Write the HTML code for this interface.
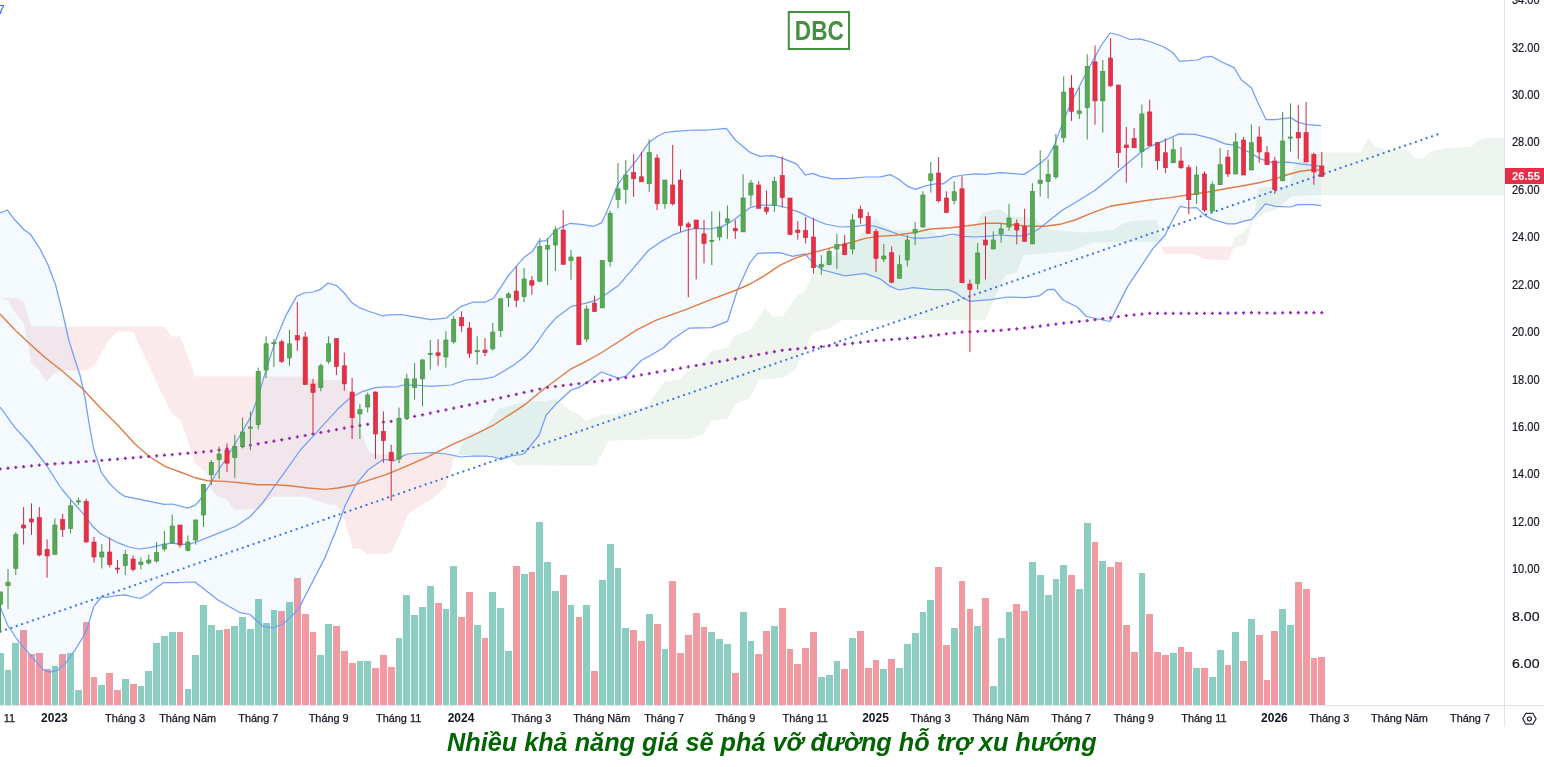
<!DOCTYPE html>
<html lang="vi"><head><meta charset="utf-8"><title>DBC</title>
<style>
html,body{margin:0;padding:0;background:#fff;}
body{width:1544px;height:767px;overflow:hidden;position:relative;font-family:"Liberation Sans",sans-serif;}
svg{position:absolute;left:0;top:0;display:block;}
svg text{font-family:"Liberation Sans",sans-serif;}
.ax{font-size:10.9px;fill:#131722;stroke:#131722;stroke-width:0.25px;}
.axb{font-size:12px;fill:#131722;font-weight:bold;}
.pr{font-size:12px;fill:#131722;stroke:#131722;stroke-width:0.2px;}
#cap{position:absolute;left:447px;top:726.7px;width:670px;white-space:nowrap;font:italic bold 25.25px "Liberation Sans",sans-serif;color:#006400;line-height:30px;letter-spacing:0px;}
</style></head><body>
<svg width="1544" height="767" viewBox="0 0 1544 767">
<rect width="1544" height="767" fill="#fff"/>
<defs><clipPath id="pane"><rect x="0" y="0" width="1504.7" height="705.2"/></clipPath></defs>
<g clip-path="url(#pane)">
<g shape-rendering="crispEdges">
<rect x="-3.2" y="652.7" width="6.8" height="52.5" fill="#8ccdc2"/>
<rect x="4.6" y="670.2" width="6.8" height="35" fill="#8ccdc2"/>
<rect x="12.4" y="642.7" width="6.8" height="62.5" fill="#8ccdc2"/>
<rect x="20.2" y="630.1" width="6.8" height="75.1" fill="#f19aa2"/>
<rect x="28.1" y="653.9" width="6.8" height="51.3" fill="#f19aa2"/>
<rect x="35.9" y="652.7" width="6.8" height="52.5" fill="#f19aa2"/>
<rect x="43.7" y="668.9" width="6.8" height="36.3" fill="#f19aa2"/>
<rect x="51.5" y="665.9" width="6.8" height="39.3" fill="#8ccdc2"/>
<rect x="59.3" y="653.9" width="6.8" height="51.3" fill="#f19aa2"/>
<rect x="67.2" y="652.7" width="6.8" height="52.5" fill="#8ccdc2"/>
<rect x="75" y="689.7" width="6.8" height="15.5" fill="#8ccdc2"/>
<rect x="82.8" y="621.9" width="6.8" height="83.3" fill="#f19aa2"/>
<rect x="90.6" y="676.7" width="6.8" height="28.5" fill="#f19aa2"/>
<rect x="98.4" y="685.2" width="6.8" height="20" fill="#8ccdc2"/>
<rect x="106.3" y="672.7" width="6.8" height="32.5" fill="#f19aa2"/>
<rect x="114.1" y="689.7" width="6.8" height="15.5" fill="#f19aa2"/>
<rect x="121.9" y="678.5" width="6.8" height="26.7" fill="#8ccdc2"/>
<rect x="129.7" y="684.2" width="6.8" height="21" fill="#f19aa2"/>
<rect x="137.5" y="686" width="6.8" height="19.2" fill="#8ccdc2"/>
<rect x="145.4" y="670.9" width="6.8" height="34.3" fill="#8ccdc2"/>
<rect x="153.2" y="643.4" width="6.8" height="61.8" fill="#8ccdc2"/>
<rect x="161" y="635.9" width="6.8" height="69.3" fill="#8ccdc2"/>
<rect x="168.8" y="631.9" width="6.8" height="73.3" fill="#8ccdc2"/>
<rect x="176.6" y="631.9" width="6.8" height="73.3" fill="#f19aa2"/>
<rect x="184.5" y="689" width="6.8" height="16.2" fill="#8ccdc2"/>
<rect x="192.3" y="654.7" width="6.8" height="50.5" fill="#8ccdc2"/>
<rect x="200.1" y="604.6" width="6.8" height="100.6" fill="#8ccdc2"/>
<rect x="207.9" y="625.4" width="6.8" height="79.8" fill="#8ccdc2"/>
<rect x="215.7" y="630.1" width="6.8" height="75.1" fill="#8ccdc2"/>
<rect x="223.6" y="629.1" width="6.8" height="76.1" fill="#f19aa2"/>
<rect x="231.4" y="626.4" width="6.8" height="78.8" fill="#8ccdc2"/>
<rect x="239.2" y="616.9" width="6.8" height="88.3" fill="#8ccdc2"/>
<rect x="247" y="629.1" width="6.8" height="76.1" fill="#8ccdc2"/>
<rect x="254.8" y="598.9" width="6.8" height="106.3" fill="#8ccdc2"/>
<rect x="262.7" y="622.6" width="6.8" height="82.6" fill="#8ccdc2"/>
<rect x="270.5" y="610.1" width="6.8" height="95.1" fill="#8ccdc2"/>
<rect x="278.3" y="610.9" width="6.8" height="94.3" fill="#f19aa2"/>
<rect x="286.1" y="601.9" width="6.8" height="103.3" fill="#8ccdc2"/>
<rect x="293.9" y="578.1" width="6.8" height="127.1" fill="#f19aa2"/>
<rect x="301.8" y="614.1" width="6.8" height="91.1" fill="#f19aa2"/>
<rect x="309.6" y="631.9" width="6.8" height="73.3" fill="#f19aa2"/>
<rect x="317.4" y="654.7" width="6.8" height="50.5" fill="#8ccdc2"/>
<rect x="325.2" y="624.4" width="6.8" height="80.8" fill="#8ccdc2"/>
<rect x="333" y="626.4" width="6.8" height="78.8" fill="#f19aa2"/>
<rect x="340.9" y="650.9" width="6.8" height="54.3" fill="#f19aa2"/>
<rect x="348.7" y="663.4" width="6.8" height="41.8" fill="#f19aa2"/>
<rect x="356.5" y="661.4" width="6.8" height="43.8" fill="#8ccdc2"/>
<rect x="364.3" y="661.4" width="6.8" height="43.8" fill="#8ccdc2"/>
<rect x="372.1" y="668.2" width="6.8" height="37" fill="#f19aa2"/>
<rect x="380" y="655.2" width="6.8" height="50" fill="#f19aa2"/>
<rect x="387.8" y="667.2" width="6.8" height="38" fill="#f19aa2"/>
<rect x="395.6" y="637.9" width="6.8" height="67.3" fill="#8ccdc2"/>
<rect x="403.4" y="595.1" width="6.8" height="110.1" fill="#8ccdc2"/>
<rect x="411.2" y="615.1" width="6.8" height="90.1" fill="#8ccdc2"/>
<rect x="419.1" y="606.9" width="6.8" height="98.3" fill="#8ccdc2"/>
<rect x="426.9" y="585.8" width="6.8" height="119.4" fill="#8ccdc2"/>
<rect x="434.7" y="602.9" width="6.8" height="102.3" fill="#f19aa2"/>
<rect x="442.5" y="609.4" width="6.8" height="95.8" fill="#8ccdc2"/>
<rect x="450.3" y="566.1" width="6.8" height="139.1" fill="#8ccdc2"/>
<rect x="458.2" y="616.9" width="6.8" height="88.3" fill="#f19aa2"/>
<rect x="466" y="592.3" width="6.8" height="112.9" fill="#f19aa2"/>
<rect x="473.8" y="625.4" width="6.8" height="79.8" fill="#8ccdc2"/>
<rect x="481.6" y="637.9" width="6.8" height="67.3" fill="#f19aa2"/>
<rect x="489.4" y="592.3" width="6.8" height="112.9" fill="#8ccdc2"/>
<rect x="497.3" y="607.6" width="6.8" height="97.6" fill="#8ccdc2"/>
<rect x="505.1" y="650.9" width="6.8" height="54.3" fill="#8ccdc2"/>
<rect x="512.9" y="566.1" width="6.8" height="139.1" fill="#f19aa2"/>
<rect x="520.7" y="574.3" width="6.8" height="130.9" fill="#8ccdc2"/>
<rect x="528.5" y="571.6" width="6.8" height="133.6" fill="#f19aa2"/>
<rect x="536.4" y="522" width="6.8" height="183.2" fill="#8ccdc2"/>
<rect x="544.2" y="561.8" width="6.8" height="143.4" fill="#8ccdc2"/>
<rect x="552" y="590.6" width="6.8" height="114.6" fill="#8ccdc2"/>
<rect x="559.8" y="575.1" width="6.8" height="130.1" fill="#f19aa2"/>
<rect x="567.6" y="604.6" width="6.8" height="100.6" fill="#8ccdc2"/>
<rect x="575.5" y="616.9" width="6.8" height="88.3" fill="#f19aa2"/>
<rect x="583.3" y="604.6" width="6.8" height="100.6" fill="#8ccdc2"/>
<rect x="591.1" y="670.9" width="6.8" height="34.3" fill="#f19aa2"/>
<rect x="598.9" y="580.1" width="6.8" height="125.1" fill="#8ccdc2"/>
<rect x="606.7" y="543.8" width="6.8" height="161.4" fill="#8ccdc2"/>
<rect x="614.6" y="567.8" width="6.8" height="137.4" fill="#8ccdc2"/>
<rect x="622.4" y="628.4" width="6.8" height="76.8" fill="#8ccdc2"/>
<rect x="630.2" y="630.1" width="6.8" height="75.1" fill="#f19aa2"/>
<rect x="638" y="640.7" width="6.8" height="64.5" fill="#f19aa2"/>
<rect x="645.8" y="614.1" width="6.8" height="91.1" fill="#8ccdc2"/>
<rect x="653.7" y="623.6" width="6.8" height="81.6" fill="#f19aa2"/>
<rect x="661.5" y="649.2" width="6.8" height="56" fill="#8ccdc2"/>
<rect x="669.3" y="581.1" width="6.8" height="124.1" fill="#f19aa2"/>
<rect x="677.1" y="652.9" width="6.8" height="52.3" fill="#f19aa2"/>
<rect x="684.9" y="634.9" width="6.8" height="70.3" fill="#f19aa2"/>
<rect x="692.8" y="613.1" width="6.8" height="92.1" fill="#f19aa2"/>
<rect x="700.6" y="627.4" width="6.8" height="77.8" fill="#f19aa2"/>
<rect x="708.4" y="632.1" width="6.8" height="73.1" fill="#8ccdc2"/>
<rect x="716.2" y="638.7" width="6.8" height="66.5" fill="#8ccdc2"/>
<rect x="724" y="644.4" width="6.8" height="60.8" fill="#8ccdc2"/>
<rect x="731.9" y="672.9" width="6.8" height="32.3" fill="#f19aa2"/>
<rect x="739.7" y="612.1" width="6.8" height="93.1" fill="#8ccdc2"/>
<rect x="747.5" y="640.7" width="6.8" height="64.5" fill="#8ccdc2"/>
<rect x="755.3" y="653.9" width="6.8" height="51.3" fill="#f19aa2"/>
<rect x="763.1" y="631.1" width="6.8" height="74.1" fill="#f19aa2"/>
<rect x="771" y="626.4" width="6.8" height="78.8" fill="#8ccdc2"/>
<rect x="778.8" y="607.6" width="6.8" height="97.6" fill="#f19aa2"/>
<rect x="786.6" y="649.2" width="6.8" height="56" fill="#f19aa2"/>
<rect x="794.4" y="664.2" width="6.8" height="41" fill="#f19aa2"/>
<rect x="802.2" y="648.2" width="6.8" height="57" fill="#f19aa2"/>
<rect x="810.1" y="631.9" width="6.8" height="73.3" fill="#f19aa2"/>
<rect x="817.9" y="676.7" width="6.8" height="28.5" fill="#8ccdc2"/>
<rect x="825.7" y="674.7" width="6.8" height="30.5" fill="#8ccdc2"/>
<rect x="833.5" y="661.4" width="6.8" height="43.8" fill="#8ccdc2"/>
<rect x="841.3" y="668.9" width="6.8" height="36.3" fill="#f19aa2"/>
<rect x="849.2" y="637.9" width="6.8" height="67.3" fill="#8ccdc2"/>
<rect x="857" y="631.1" width="6.8" height="74.1" fill="#f19aa2"/>
<rect x="864.8" y="668.2" width="6.8" height="37" fill="#f19aa2"/>
<rect x="872.6" y="659.7" width="6.8" height="45.5" fill="#f19aa2"/>
<rect x="880.4" y="668.9" width="6.8" height="36.3" fill="#8ccdc2"/>
<rect x="888.3" y="658.7" width="6.8" height="46.5" fill="#f19aa2"/>
<rect x="896.1" y="668.2" width="6.8" height="37" fill="#8ccdc2"/>
<rect x="903.9" y="644.4" width="6.8" height="60.8" fill="#8ccdc2"/>
<rect x="911.7" y="633.1" width="6.8" height="72.1" fill="#8ccdc2"/>
<rect x="919.5" y="612.1" width="6.8" height="93.1" fill="#8ccdc2"/>
<rect x="927.4" y="600.1" width="6.8" height="105.1" fill="#8ccdc2"/>
<rect x="935.2" y="566.8" width="6.8" height="138.4" fill="#f19aa2"/>
<rect x="943" y="645.4" width="6.8" height="59.8" fill="#f19aa2"/>
<rect x="950.8" y="628.4" width="6.8" height="76.8" fill="#8ccdc2"/>
<rect x="958.6" y="581.1" width="6.8" height="124.1" fill="#f19aa2"/>
<rect x="966.5" y="609.4" width="6.8" height="95.8" fill="#f19aa2"/>
<rect x="974.3" y="626.4" width="6.8" height="78.8" fill="#8ccdc2"/>
<rect x="982.1" y="598.1" width="6.8" height="107.1" fill="#f19aa2"/>
<rect x="989.9" y="686.2" width="6.8" height="19" fill="#8ccdc2"/>
<rect x="997.7" y="637.9" width="6.8" height="67.3" fill="#8ccdc2"/>
<rect x="1005.6" y="612.1" width="6.8" height="93.1" fill="#8ccdc2"/>
<rect x="1013.4" y="603.9" width="6.8" height="101.3" fill="#f19aa2"/>
<rect x="1021.2" y="611.4" width="6.8" height="93.8" fill="#f19aa2"/>
<rect x="1029" y="562.1" width="6.8" height="143.1" fill="#8ccdc2"/>
<rect x="1036.8" y="575.3" width="6.8" height="129.9" fill="#8ccdc2"/>
<rect x="1044.7" y="595.1" width="6.8" height="110.1" fill="#8ccdc2"/>
<rect x="1052.5" y="579.1" width="6.8" height="126.1" fill="#8ccdc2"/>
<rect x="1060.3" y="565.1" width="6.8" height="140.1" fill="#8ccdc2"/>
<rect x="1068.1" y="575.3" width="6.8" height="129.9" fill="#f19aa2"/>
<rect x="1075.9" y="588.6" width="6.8" height="116.6" fill="#8ccdc2"/>
<rect x="1083.8" y="523" width="6.8" height="182.2" fill="#8ccdc2"/>
<rect x="1091.6" y="542" width="6.8" height="163.2" fill="#f19aa2"/>
<rect x="1099.4" y="561.1" width="6.8" height="144.1" fill="#8ccdc2"/>
<rect x="1107.2" y="566.8" width="6.8" height="138.4" fill="#f19aa2"/>
<rect x="1115" y="562.1" width="6.8" height="143.1" fill="#f19aa2"/>
<rect x="1122.9" y="625.4" width="6.8" height="79.8" fill="#f19aa2"/>
<rect x="1130.7" y="651.9" width="6.8" height="53.3" fill="#f19aa2"/>
<rect x="1138.5" y="572.6" width="6.8" height="132.6" fill="#8ccdc2"/>
<rect x="1146.3" y="614.1" width="6.8" height="91.1" fill="#f19aa2"/>
<rect x="1154.1" y="651.9" width="6.8" height="53.3" fill="#f19aa2"/>
<rect x="1162" y="654.9" width="6.8" height="50.3" fill="#f19aa2"/>
<rect x="1169.8" y="652.9" width="6.8" height="52.3" fill="#8ccdc2"/>
<rect x="1177.6" y="647.2" width="6.8" height="58" fill="#f19aa2"/>
<rect x="1185.4" y="651.9" width="6.8" height="53.3" fill="#f19aa2"/>
<rect x="1193.2" y="668.2" width="6.8" height="37" fill="#8ccdc2"/>
<rect x="1201.1" y="668.2" width="6.8" height="37" fill="#f19aa2"/>
<rect x="1208.9" y="676.7" width="6.8" height="28.5" fill="#8ccdc2"/>
<rect x="1216.7" y="650.2" width="6.8" height="55" fill="#8ccdc2"/>
<rect x="1224.5" y="665.2" width="6.8" height="40" fill="#f19aa2"/>
<rect x="1232.3" y="632.1" width="6.8" height="73.1" fill="#8ccdc2"/>
<rect x="1240.2" y="661.4" width="6.8" height="43.8" fill="#f19aa2"/>
<rect x="1248" y="618.9" width="6.8" height="86.3" fill="#8ccdc2"/>
<rect x="1255.8" y="634.9" width="6.8" height="70.3" fill="#f19aa2"/>
<rect x="1263.6" y="679.5" width="6.8" height="25.7" fill="#f19aa2"/>
<rect x="1271.4" y="631.1" width="6.8" height="74.1" fill="#f19aa2"/>
<rect x="1279.3" y="608.6" width="6.8" height="96.6" fill="#8ccdc2"/>
<rect x="1287.1" y="624.6" width="6.8" height="80.6" fill="#8ccdc2"/>
<rect x="1294.9" y="582.1" width="6.8" height="123.1" fill="#f19aa2"/>
<rect x="1302.7" y="588.6" width="6.8" height="116.6" fill="#f19aa2"/>
<rect x="1310.5" y="657.7" width="6.8" height="47.5" fill="#f19aa2"/>
<rect x="1318.4" y="656.7" width="6.8" height="48.5" fill="#f19aa2"/>
</g>
<polygon fill="rgba(215,45,65,0.10)" points="0,298 16.3,298 23.8,301.4 31.3,326.4 164,326.4 171.5,336.4 180.2,336.4 195.2,376.5 300,376.5 310,379 317,380 341.7,380 347.8,390 364,440 369,452 375.5,454.5 457.3,454.5 457.3,454.5 453.6,460 446,486.4 432.3,499 417.3,507.7 407.3,515 398.5,537.5 391,552.5 386,554 368,554 360.5,549 353,549 344.2,519 337,505 328,504 311.6,499 304,496.4 274,496.4 266.6,501.5 259,509.5 234,509.5 226.5,499 217.8,496.4 210.3,487.7 206.5,472.7 195.2,463.9 187.7,440 180.2,420 171.5,413.3 160.2,390 150.2,368.8 137.2,340 132.7,331.4 117.6,331.4 108.9,340 93.9,366.3 86.4,370.5 60,370.5 53.8,373.8 46.3,381.8 38.8,370 31.3,362.7 23.8,322.7 15,312.6 7.5,300 0,298"/>
<polygon fill="rgba(75,155,85,0.10)" points="457.3,454.5 468.6,433.9 483.6,430 498.6,408.8 516,403.8 531.2,401.3 546.2,401.3 555,398.8 571.2,411.3 577.5,413.3 586.2,420.9 601.3,414.6 616.3,414.6 623.8,410.8 646.3,407 663.8,382 679.5,379.8 686.7,371.3 693.9,367.4 700,364.8 712.5,350.2 727.5,347.7 735,335.2 750,330.2 765,307.6 772.6,316.4 782.6,316.4 797.6,295 805,291.4 812.8,272.7 817.5,265 828.8,257.6 842.6,251.3 855,241.3 861.4,233.8 867.6,228.8 875.3,217.7 880.4,224 892.9,230.2 933,230.2 938,236.4 950.4,236.4 960.5,230.2 975.5,223.7 982.7,212.6 1000,209.6 1010,216.4 1035,217.6 1040,223.8 1050,230 1082.6,232.6 1112.6,230 1125.2,222.6 1132.7,220.8 1157.2,220 1160.2,235 1161.5,246.4 1161.5,246.4 1157.7,241.4 1092.6,242.6 1070,251.4 1023.8,255.2 1016.3,272.7 1005.4,275 1000.4,285 985.4,320 842.7,320 830.2,327.7 812.6,332.7 795,370.2 782.6,377.7 758.8,380.2 752.6,392 749,398.8 735.2,404.6 727.7,418.8 711.4,420.9 704,433.9 689,438.9 648.8,438.9 641.3,440 608.8,440.6 595,466 516,465 511,459.6 457.3,454.5"/>
<polygon fill="rgba(215,45,65,0.10)" points="1161.5,246.4 1234,246.4 1234,246.4 1227.8,260.6 1202.8,258.9 1195.2,253.9 1164,253.9 1161.5,246.4"/>
<polygon fill="rgba(75,155,85,0.10)" points="1232,248 1234.3,237.7 1243,232.7 1254.4,217.7 1258,187.7 1288,186.4 1294.4,166.4 1300,160 1310,153 1321,152.6 1360.8,152.6 1367.8,137.6 1375.8,146.4 1383.3,149.6 1408.3,150 1415.8,158.4 1423.3,158.4 1430.8,151.4 1445.9,148 1471,147 1478.4,140 1486,138 1504.7,137.6 1504.7,195.2 1308,195.2 1290.7,196.4 1280.7,205.2 1275.6,210.2 1265.6,212.7 1253,220.2 1245.6,245.2 1232,248"/>
<polygon fill="rgba(33,150,243,0.05)" points="0,213 7.5,210 15,220 23.8,229.5 30.5,234.3 40,248.8 47.6,263.8 55.6,285 62.6,312.6 68.8,340 75,360 80,375 85,397.6 88.9,422.6 93.9,450 101.4,472.7 110,484 117.6,491.4 125,496.4 140,499.4 164,504.4 172.7,504 187.7,508.2 195.2,505.2 200,500 207.8,487.7 215.3,475 225.3,460 240.3,435 250.3,417.6 257.8,397.6 265.3,372.5 271.6,352.5 276.6,338 285.4,316.4 296.6,296.4 304,293 313,292 320.4,289.4 328,283 336.7,285.6 344.2,293 351.7,302.6 359.2,307.6 368,311 383,316 386,315.2 401,314.5 416,317.2 431,319.7 446,318.2 461,306.4 473.6,302 484.9,302.2 493.6,298.2 508.7,275.2 523.7,257.6 532.4,251.4 538.7,241.4 546.2,240.6 556.2,229.6 570,223.3 581.2,224.3 593.8,226.3 601.8,222.6 607.5,210 617.5,185 627.5,171.3 637.5,158.8 648.8,142.6 657.6,136.3 665,132.5 675,131.3 695,130 707.6,130 726.4,128.3 735.2,140 750.2,152.6 760.2,156.3 772.7,155.6 782.7,158.3 796.5,163.8 805.3,175 812.8,173.3 820.3,176.3 832.8,178.8 850.3,178.3 865.3,177 880.4,176.8 890.4,174.6 897.9,178.8 907.9,186.4 915.4,189.4 925.4,185.9 935.4,183.9 943,183.9 953,176.8 963,175 975.5,173.8 986,174.3 1000,172.7 1023.8,174.4 1032.5,169 1047.6,157.2 1053.8,146.4 1061.3,126.4 1070,105 1082.6,80 1092.6,61.3 1101.4,45 1110,33 1117.6,34.5 1130,39.5 1140,38.8 1152.7,42.5 1164,47 1172.7,52.5 1179.7,61.3 1190.2,60.5 1197.7,60 1204,57 1211.5,56.3 1220.3,61.3 1234,67.6 1241.5,80 1251.6,88 1257.8,102.6 1266,119.6 1275.3,119.6 1290.4,117.6 1299,122.6 1308,124.6 1321,125.6 1321,205.6 1313,204.6 1297.9,204.6 1290.4,207 1275.3,206.3 1265.3,203.8 1257.8,212.6 1251.6,219.3 1242.8,221.3 1235.3,223.8 1227.8,223.8 1212.8,219.6 1205.3,215.6 1196.5,207.6 1187.7,208 1180.2,206.3 1172.7,220 1165.2,235 1152.7,248.9 1140.2,267.6 1127.7,286.4 1117.6,306.4 1110,321.5 1086.4,316.5 1077.6,307.2 1063,300 1054.2,289.4 1048,289.6 1039.2,295.9 1025.4,297.6 1008,297 990.4,299.6 970.3,301.4 962.8,298 955.3,292.6 947.8,289.6 932.8,289.6 912.8,287.6 899,290 890.2,286.4 880.2,278.8 865.2,273.3 845.2,275.8 822.7,270 813.9,263.8 805,253.8 792.6,256.3 780,252.6 757.6,253.3 750,262.6 737.5,290 727.5,321.4 711.4,327.7 688.9,328.2 671.4,340 663.8,347.5 651.3,355 641.3,360.5 626.3,375.8 618.8,378.3 601.3,372 588.8,381.3 578.7,387.6 571.2,390 556.2,403.8 546.2,415 539.2,435 530,446.4 523.7,454 511,456 501,459.4 493.6,457 486,456 473.6,456 461,457 446,454 431,452.6 407.3,454 399.8,457.6 393.5,461 386,459.6 383,459.6 368,470 355.4,485.2 345.4,505.2 335.4,532 325,557.6 298,610 283,624 273,628 263,626.5 250,614.5 240,612.7 218,600 195,582 179,582.5 164,582.5 156.4,587.5 149,593.8 140.2,598.5 132.7,597 125.2,594.8 117.6,595.4 108.9,597 101.4,597 93.9,606.4 90,618.8 86.4,631.4 75,650.2 65,664 57.6,670.2 50,672.2 43.8,670.2 32.5,657.7 17.5,640 7.5,625 0,606.4"/>
<polyline fill="none" stroke="#729df7" stroke-width="1.25" stroke-linejoin="round" points="0,213 7.5,210 15,220 23.8,229.5 30.5,234.3 40,248.8 47.6,263.8 55.6,285 62.6,312.6 68.8,340 75,360 80,375 85,397.6 88.9,422.6 93.9,450 101.4,472.7 110,484 117.6,491.4 125,496.4 140,499.4 164,504.4 172.7,504 187.7,508.2 195.2,505.2 200,500 207.8,487.7 215.3,475 225.3,460 240.3,435 250.3,417.6 257.8,397.6 265.3,372.5 271.6,352.5 276.6,338 285.4,316.4 296.6,296.4 304,293 313,292 320.4,289.4 328,283 336.7,285.6 344.2,293 351.7,302.6 359.2,307.6 368,311 383,316 386,315.2 401,314.5 416,317.2 431,319.7 446,318.2 461,306.4 473.6,302 484.9,302.2 493.6,298.2 508.7,275.2 523.7,257.6 532.4,251.4 538.7,241.4 546.2,240.6 556.2,229.6 570,223.3 581.2,224.3 593.8,226.3 601.8,222.6 607.5,210 617.5,185 627.5,171.3 637.5,158.8 648.8,142.6 657.6,136.3 665,132.5 675,131.3 695,130 707.6,130 726.4,128.3 735.2,140 750.2,152.6 760.2,156.3 772.7,155.6 782.7,158.3 796.5,163.8 805.3,175 812.8,173.3 820.3,176.3 832.8,178.8 850.3,178.3 865.3,177 880.4,176.8 890.4,174.6 897.9,178.8 907.9,186.4 915.4,189.4 925.4,185.9 935.4,183.9 943,183.9 953,176.8 963,175 975.5,173.8 986,174.3 1000,172.7 1023.8,174.4 1032.5,169 1047.6,157.2 1053.8,146.4 1061.3,126.4 1070,105 1082.6,80 1092.6,61.3 1101.4,45 1110,33 1117.6,34.5 1130,39.5 1140,38.8 1152.7,42.5 1164,47 1172.7,52.5 1179.7,61.3 1190.2,60.5 1197.7,60 1204,57 1211.5,56.3 1220.3,61.3 1234,67.6 1241.5,80 1251.6,88 1257.8,102.6 1266,119.6 1275.3,119.6 1290.4,117.6 1299,122.6 1308,124.6 1321,125.6"/>
<polyline fill="none" stroke="#729df7" stroke-width="1.25" stroke-linejoin="round" points="0,407 15,427.6 30,444 46.3,465 60,486.5 62.6,490 70,498.8 77.6,507.5 85,515.7 92.6,526.3 100,533.2 108.9,538.2 118.9,543.2 128.9,547 139,549 150.2,547.6 162.7,544.7 171.5,543.2 179,543.8 187.7,544.6 195,542.5 220,532.6 235.3,526.5 250.3,516.5 262.8,502.7 275.3,485.2 287.9,467.7 300.4,450 313,436.4 325.4,422.6 338,408.8 350.4,397.6 363,391.3 375.5,387.6 386,386.8 396,387 403.5,385 413.5,385 431,386.3 451,385 466,380 483.6,378.8 493.6,377 503.6,371.3 513.7,365 523.7,357.5 531.2,350 538.7,340 546.2,329 556.2,317.7 571.2,306.4 586.2,303.2 596.3,300.2 606.3,294 618.8,285.2 633.8,267.6 648.8,250 661.3,241.4 672.6,235.2 685,230.7 695,228.4 710,229 722.7,226.4 732.7,220.7 740.2,215 750.2,207.6 760.2,205 775.2,205 787.7,208 800.3,212.6 812.8,219 825.3,224 840.3,227 855.3,226.4 865.3,225 875.3,226.4 890.4,231.4 900.4,235 913,238 925.4,238 940.4,236.4 953,234 963,236.4 975.5,237 986,236.4 1000,235 1012.5,235.9 1025,235.9 1037.5,230 1050,220 1062.6,210 1075,202.7 1095,190.2 1107.6,180.2 1125.2,165.2 1140.2,152.7 1150.2,146.4 1165.2,140.2 1179,133.9 1195.2,134.4 1212.8,138.9 1225.3,143.9 1234,145.2 1250.3,152.7 1260.3,158.9 1272.8,162.7 1287.9,162.2 1300.4,163.9 1321,166.4"/>
<polyline fill="none" stroke="#729df7" stroke-width="1.25" stroke-linejoin="round" points="0,606.4 7.5,625 17.5,640 32.5,657.7 43.8,670.2 50,672.2 57.6,670.2 65,664 75,650.2 86.4,631.4 90,618.8 93.9,606.4 101.4,597 108.9,597 117.6,595.4 125.2,594.8 132.7,597 140.2,598.5 149,593.8 156.4,587.5 164,582.5 179,582.5 195,582 218,600 240,612.7 250,614.5 263,626.5 273,628 283,624 298,610 325,557.6 335.4,532 345.4,505.2 355.4,485.2 368,470 383,459.6 386,459.6 393.5,461 399.8,457.6 407.3,454 431,452.6 446,454 461,457 473.6,456 486,456 493.6,457 501,459.4 511,456 523.7,454 530,446.4 539.2,435 546.2,415 556.2,403.8 571.2,390 578.7,387.6 588.8,381.3 601.3,372 618.8,378.3 626.3,375.8 641.3,360.5 651.3,355 663.8,347.5 671.4,340 688.9,328.2 711.4,327.7 727.5,321.4 737.5,290 750,262.6 757.6,253.3 780,252.6 792.6,256.3 805,253.8 813.9,263.8 822.7,270 845.2,275.8 865.2,273.3 880.2,278.8 890.2,286.4 899,290 912.8,287.6 932.8,289.6 947.8,289.6 955.3,292.6 962.8,298 970.3,301.4 990.4,299.6 1008,297 1025.4,297.6 1039.2,295.9 1048,289.6 1054.2,289.4 1063,300 1077.6,307.2 1086.4,316.5 1110,321.5 1117.6,306.4 1127.7,286.4 1140.2,267.6 1152.7,248.9 1165.2,235 1172.7,220 1180.2,206.3 1187.7,208 1196.5,207.6 1205.3,215.6 1212.8,219.6 1227.8,223.8 1235.3,223.8 1242.8,221.3 1251.6,219.3 1257.8,212.6 1265.3,203.8 1275.3,206.3 1290.4,207 1297.9,204.6 1313,204.6 1321,205.6"/>
<polyline fill="none" stroke="#e07b45" stroke-width="1.4" stroke-linejoin="round" points="0,314 15,330 30,344 45,357.5 62.6,371.3 82.6,388.8 100,407.6 117.6,425 135,444 150,457 165,466.4 180,472 195,477.7 207.8,480.7 225,481.4 240,482.7 257.8,484.7 275,484.7 290,485.7 308,488 325.4,489.4 338,488 355.4,484.7 370.5,479.7 386,474.7 406,466.4 426,457.6 438.6,451.4 453.6,443.9 471,436.4 493.6,425 511,413.8 526,403.8 541,391.3 556,380 571,368.8 586,361.3 601,353 621.3,340 636.3,330.2 656.3,320.2 686.4,309.4 711.4,299.4 736.4,290 750.2,284 765.2,275.2 780.2,265.2 795.2,258.2 807.8,254 825.3,249.4 840.3,245.2 852.8,242 865.3,238.4 877.8,236.4 895.4,235.2 913,232.7 930.4,229 950.4,227.7 968,225.7 986,223.2 1000,223.3 1015,225 1030,226.3 1045,226.3 1060,224.3 1075,220 1092.6,212.6 1110,206.3 1130,203 1150,200 1170,197.6 1187.7,195 1207.8,192 1225.3,188.8 1240.3,186.3 1260.3,182.5 1275.3,178.8 1287.9,174.5 1300.4,171.3 1310.4,170 1321,170"/>
<g fill="#3a73f2">
<circle cx="0.6" cy="631.6" r="1.15"/>
<circle cx="6" cy="629.7" r="1.15"/>
<circle cx="11.4" cy="627.9" r="1.15"/>
<circle cx="16.7" cy="626" r="1.15"/>
<circle cx="22.1" cy="624.2" r="1.15"/>
<circle cx="27.5" cy="622.3" r="1.15"/>
<circle cx="32.9" cy="620.4" r="1.15"/>
<circle cx="38.3" cy="618.6" r="1.15"/>
<circle cx="43.7" cy="616.7" r="1.15"/>
<circle cx="49" cy="614.8" r="1.15"/>
<circle cx="54.4" cy="613" r="1.15"/>
<circle cx="59.8" cy="611.1" r="1.15"/>
<circle cx="65.2" cy="609.3" r="1.15"/>
<circle cx="70.6" cy="607.4" r="1.15"/>
<circle cx="75.9" cy="605.5" r="1.15"/>
<circle cx="81.3" cy="603.7" r="1.15"/>
<circle cx="86.7" cy="601.8" r="1.15"/>
<circle cx="92.1" cy="599.9" r="1.15"/>
<circle cx="97.5" cy="598.1" r="1.15"/>
<circle cx="102.8" cy="596.2" r="1.15"/>
<circle cx="108.2" cy="594.4" r="1.15"/>
<circle cx="113.6" cy="592.5" r="1.15"/>
<circle cx="119" cy="590.6" r="1.15"/>
<circle cx="124.4" cy="588.8" r="1.15"/>
<circle cx="129.8" cy="586.9" r="1.15"/>
<circle cx="135.1" cy="585.1" r="1.15"/>
<circle cx="140.5" cy="583.2" r="1.15"/>
<circle cx="145.9" cy="581.3" r="1.15"/>
<circle cx="151.3" cy="579.5" r="1.15"/>
<circle cx="156.7" cy="577.6" r="1.15"/>
<circle cx="162" cy="575.7" r="1.15"/>
<circle cx="167.4" cy="573.9" r="1.15"/>
<circle cx="172.8" cy="572" r="1.15"/>
<circle cx="178.2" cy="570.2" r="1.15"/>
<circle cx="183.6" cy="568.3" r="1.15"/>
<circle cx="188.9" cy="566.4" r="1.15"/>
<circle cx="194.3" cy="564.6" r="1.15"/>
<circle cx="199.7" cy="562.7" r="1.15"/>
<circle cx="205.1" cy="560.9" r="1.15"/>
<circle cx="210.5" cy="559" r="1.15"/>
<circle cx="215.9" cy="557.1" r="1.15"/>
<circle cx="221.2" cy="555.3" r="1.15"/>
<circle cx="226.6" cy="553.4" r="1.15"/>
<circle cx="232" cy="551.5" r="1.15"/>
<circle cx="237.4" cy="549.7" r="1.15"/>
<circle cx="242.8" cy="547.8" r="1.15"/>
<circle cx="248.1" cy="546" r="1.15"/>
<circle cx="253.5" cy="544.1" r="1.15"/>
<circle cx="258.9" cy="542.2" r="1.15"/>
<circle cx="264.3" cy="540.4" r="1.15"/>
<circle cx="269.7" cy="538.5" r="1.15"/>
<circle cx="275" cy="536.6" r="1.15"/>
<circle cx="280.4" cy="534.8" r="1.15"/>
<circle cx="285.8" cy="532.9" r="1.15"/>
<circle cx="291.2" cy="531.1" r="1.15"/>
<circle cx="296.6" cy="529.2" r="1.15"/>
<circle cx="302" cy="527.3" r="1.15"/>
<circle cx="307.3" cy="525.5" r="1.15"/>
<circle cx="312.7" cy="523.6" r="1.15"/>
<circle cx="318.1" cy="521.8" r="1.15"/>
<circle cx="323.5" cy="519.9" r="1.15"/>
<circle cx="328.9" cy="518" r="1.15"/>
<circle cx="334.2" cy="516.2" r="1.15"/>
<circle cx="339.6" cy="514.3" r="1.15"/>
<circle cx="345" cy="512.4" r="1.15"/>
<circle cx="350.4" cy="510.6" r="1.15"/>
<circle cx="355.8" cy="508.7" r="1.15"/>
<circle cx="361.1" cy="506.9" r="1.15"/>
<circle cx="366.5" cy="505" r="1.15"/>
<circle cx="371.9" cy="503.1" r="1.15"/>
<circle cx="377.3" cy="501.3" r="1.15"/>
<circle cx="382.7" cy="499.4" r="1.15"/>
<circle cx="388.1" cy="497.5" r="1.15"/>
<circle cx="393.4" cy="495.7" r="1.15"/>
<circle cx="398.8" cy="493.8" r="1.15"/>
<circle cx="404.2" cy="492" r="1.15"/>
<circle cx="409.6" cy="490.1" r="1.15"/>
<circle cx="415" cy="488.2" r="1.15"/>
<circle cx="420.3" cy="486.4" r="1.15"/>
<circle cx="425.7" cy="484.5" r="1.15"/>
<circle cx="431.1" cy="482.7" r="1.15"/>
<circle cx="436.5" cy="480.8" r="1.15"/>
<circle cx="441.9" cy="478.9" r="1.15"/>
<circle cx="447.2" cy="477.1" r="1.15"/>
<circle cx="452.6" cy="475.2" r="1.15"/>
<circle cx="458" cy="473.3" r="1.15"/>
<circle cx="463.4" cy="471.5" r="1.15"/>
<circle cx="468.8" cy="469.6" r="1.15"/>
<circle cx="474.2" cy="467.8" r="1.15"/>
<circle cx="479.5" cy="465.9" r="1.15"/>
<circle cx="484.9" cy="464" r="1.15"/>
<circle cx="490.3" cy="462.2" r="1.15"/>
<circle cx="495.7" cy="460.3" r="1.15"/>
<circle cx="501.1" cy="458.5" r="1.15"/>
<circle cx="506.4" cy="456.6" r="1.15"/>
<circle cx="511.8" cy="454.7" r="1.15"/>
<circle cx="517.2" cy="452.9" r="1.15"/>
<circle cx="522.6" cy="451" r="1.15"/>
<circle cx="528" cy="449.1" r="1.15"/>
<circle cx="533.3" cy="447.3" r="1.15"/>
<circle cx="538.7" cy="445.4" r="1.15"/>
<circle cx="544.1" cy="443.6" r="1.15"/>
<circle cx="549.5" cy="441.7" r="1.15"/>
<circle cx="554.9" cy="439.8" r="1.15"/>
<circle cx="560.3" cy="438" r="1.15"/>
<circle cx="565.6" cy="436.1" r="1.15"/>
<circle cx="571" cy="434.2" r="1.15"/>
<circle cx="576.4" cy="432.4" r="1.15"/>
<circle cx="581.8" cy="430.5" r="1.15"/>
<circle cx="587.2" cy="428.7" r="1.15"/>
<circle cx="592.5" cy="426.8" r="1.15"/>
<circle cx="597.9" cy="424.9" r="1.15"/>
<circle cx="603.3" cy="423.1" r="1.15"/>
<circle cx="608.7" cy="421.2" r="1.15"/>
<circle cx="614.1" cy="419.4" r="1.15"/>
<circle cx="619.4" cy="417.5" r="1.15"/>
<circle cx="624.8" cy="415.6" r="1.15"/>
<circle cx="630.2" cy="413.8" r="1.15"/>
<circle cx="635.6" cy="411.9" r="1.15"/>
<circle cx="641" cy="410" r="1.15"/>
<circle cx="646.4" cy="408.2" r="1.15"/>
<circle cx="651.7" cy="406.3" r="1.15"/>
<circle cx="657.1" cy="404.5" r="1.15"/>
<circle cx="662.5" cy="402.6" r="1.15"/>
<circle cx="667.9" cy="400.7" r="1.15"/>
<circle cx="673.3" cy="398.9" r="1.15"/>
<circle cx="678.6" cy="397" r="1.15"/>
<circle cx="684" cy="395.1" r="1.15"/>
<circle cx="689.4" cy="393.3" r="1.15"/>
<circle cx="694.8" cy="391.4" r="1.15"/>
<circle cx="700.2" cy="389.6" r="1.15"/>
<circle cx="705.6" cy="387.7" r="1.15"/>
<circle cx="710.9" cy="385.8" r="1.15"/>
<circle cx="716.3" cy="384" r="1.15"/>
<circle cx="721.7" cy="382.1" r="1.15"/>
<circle cx="727.1" cy="380.3" r="1.15"/>
<circle cx="732.5" cy="378.4" r="1.15"/>
<circle cx="737.8" cy="376.5" r="1.15"/>
<circle cx="743.2" cy="374.7" r="1.15"/>
<circle cx="748.6" cy="372.8" r="1.15"/>
<circle cx="754" cy="370.9" r="1.15"/>
<circle cx="759.4" cy="369.1" r="1.15"/>
<circle cx="764.7" cy="367.2" r="1.15"/>
<circle cx="770.1" cy="365.4" r="1.15"/>
<circle cx="775.5" cy="363.5" r="1.15"/>
<circle cx="780.9" cy="361.6" r="1.15"/>
<circle cx="786.3" cy="359.8" r="1.15"/>
<circle cx="791.7" cy="357.9" r="1.15"/>
<circle cx="797" cy="356.1" r="1.15"/>
<circle cx="802.4" cy="354.2" r="1.15"/>
<circle cx="807.8" cy="352.3" r="1.15"/>
<circle cx="813.2" cy="350.5" r="1.15"/>
<circle cx="818.6" cy="348.6" r="1.15"/>
<circle cx="823.9" cy="346.7" r="1.15"/>
<circle cx="829.3" cy="344.9" r="1.15"/>
<circle cx="834.7" cy="343" r="1.15"/>
<circle cx="840.1" cy="341.2" r="1.15"/>
<circle cx="845.5" cy="339.3" r="1.15"/>
<circle cx="850.8" cy="337.4" r="1.15"/>
<circle cx="856.2" cy="335.6" r="1.15"/>
<circle cx="861.6" cy="333.7" r="1.15"/>
<circle cx="867" cy="331.8" r="1.15"/>
<circle cx="872.4" cy="330" r="1.15"/>
<circle cx="877.8" cy="328.1" r="1.15"/>
<circle cx="883.1" cy="326.3" r="1.15"/>
<circle cx="888.5" cy="324.4" r="1.15"/>
<circle cx="893.9" cy="322.5" r="1.15"/>
<circle cx="899.3" cy="320.7" r="1.15"/>
<circle cx="904.7" cy="318.8" r="1.15"/>
<circle cx="910" cy="317" r="1.15"/>
<circle cx="915.4" cy="315.1" r="1.15"/>
<circle cx="920.8" cy="313.2" r="1.15"/>
<circle cx="926.2" cy="311.4" r="1.15"/>
<circle cx="931.6" cy="309.5" r="1.15"/>
<circle cx="936.9" cy="307.6" r="1.15"/>
<circle cx="942.3" cy="305.8" r="1.15"/>
<circle cx="947.7" cy="303.9" r="1.15"/>
<circle cx="953.1" cy="302.1" r="1.15"/>
<circle cx="958.5" cy="300.2" r="1.15"/>
<circle cx="963.9" cy="298.3" r="1.15"/>
<circle cx="969.2" cy="296.5" r="1.15"/>
<circle cx="974.6" cy="294.6" r="1.15"/>
<circle cx="980" cy="292.7" r="1.15"/>
<circle cx="985.4" cy="290.9" r="1.15"/>
<circle cx="990.8" cy="289" r="1.15"/>
<circle cx="996.1" cy="287.2" r="1.15"/>
<circle cx="1001.5" cy="285.3" r="1.15"/>
<circle cx="1006.9" cy="283.4" r="1.15"/>
<circle cx="1012.3" cy="281.6" r="1.15"/>
<circle cx="1017.7" cy="279.7" r="1.15"/>
<circle cx="1023" cy="277.9" r="1.15"/>
<circle cx="1028.4" cy="276" r="1.15"/>
<circle cx="1033.8" cy="274.1" r="1.15"/>
<circle cx="1039.2" cy="272.3" r="1.15"/>
<circle cx="1044.6" cy="270.4" r="1.15"/>
<circle cx="1050" cy="268.5" r="1.15"/>
<circle cx="1055.3" cy="266.7" r="1.15"/>
<circle cx="1060.7" cy="264.8" r="1.15"/>
<circle cx="1066.1" cy="263" r="1.15"/>
<circle cx="1071.5" cy="261.1" r="1.15"/>
<circle cx="1076.9" cy="259.2" r="1.15"/>
<circle cx="1082.2" cy="257.4" r="1.15"/>
<circle cx="1087.6" cy="255.5" r="1.15"/>
<circle cx="1093" cy="253.7" r="1.15"/>
<circle cx="1098.4" cy="251.8" r="1.15"/>
<circle cx="1103.8" cy="249.9" r="1.15"/>
<circle cx="1109.1" cy="248.1" r="1.15"/>
<circle cx="1114.5" cy="246.2" r="1.15"/>
<circle cx="1119.9" cy="244.3" r="1.15"/>
<circle cx="1125.3" cy="242.5" r="1.15"/>
<circle cx="1130.7" cy="240.6" r="1.15"/>
<circle cx="1136.1" cy="238.8" r="1.15"/>
<circle cx="1141.4" cy="236.9" r="1.15"/>
<circle cx="1146.8" cy="235" r="1.15"/>
<circle cx="1152.2" cy="233.2" r="1.15"/>
<circle cx="1157.6" cy="231.3" r="1.15"/>
<circle cx="1163" cy="229.4" r="1.15"/>
<circle cx="1168.3" cy="227.6" r="1.15"/>
<circle cx="1173.7" cy="225.7" r="1.15"/>
<circle cx="1179.1" cy="223.9" r="1.15"/>
<circle cx="1184.5" cy="222" r="1.15"/>
<circle cx="1189.9" cy="220.1" r="1.15"/>
<circle cx="1195.2" cy="218.3" r="1.15"/>
<circle cx="1200.6" cy="216.4" r="1.15"/>
<circle cx="1206" cy="214.6" r="1.15"/>
<circle cx="1211.4" cy="212.7" r="1.15"/>
<circle cx="1216.8" cy="210.8" r="1.15"/>
<circle cx="1222.2" cy="209" r="1.15"/>
<circle cx="1227.5" cy="207.1" r="1.15"/>
<circle cx="1232.9" cy="205.2" r="1.15"/>
<circle cx="1238.3" cy="203.4" r="1.15"/>
<circle cx="1243.7" cy="201.5" r="1.15"/>
<circle cx="1249.1" cy="199.7" r="1.15"/>
<circle cx="1254.4" cy="197.8" r="1.15"/>
<circle cx="1259.8" cy="195.9" r="1.15"/>
<circle cx="1265.2" cy="194.1" r="1.15"/>
<circle cx="1270.6" cy="192.2" r="1.15"/>
<circle cx="1276" cy="190.3" r="1.15"/>
<circle cx="1281.3" cy="188.5" r="1.15"/>
<circle cx="1286.7" cy="186.6" r="1.15"/>
<circle cx="1292.1" cy="184.8" r="1.15"/>
<circle cx="1297.5" cy="182.9" r="1.15"/>
<circle cx="1302.9" cy="181" r="1.15"/>
<circle cx="1308.3" cy="179.2" r="1.15"/>
<circle cx="1313.6" cy="177.3" r="1.15"/>
<circle cx="1319" cy="175.5" r="1.15"/>
<circle cx="1324.4" cy="173.6" r="1.15"/>
<circle cx="1329.8" cy="171.7" r="1.15"/>
<circle cx="1335.2" cy="169.9" r="1.15"/>
<circle cx="1340.5" cy="168" r="1.15"/>
<circle cx="1345.9" cy="166.1" r="1.15"/>
<circle cx="1351.3" cy="164.3" r="1.15"/>
<circle cx="1356.7" cy="162.4" r="1.15"/>
<circle cx="1362.1" cy="160.6" r="1.15"/>
<circle cx="1367.5" cy="158.7" r="1.15"/>
<circle cx="1372.8" cy="156.8" r="1.15"/>
<circle cx="1378.2" cy="155" r="1.15"/>
<circle cx="1383.6" cy="153.1" r="1.15"/>
<circle cx="1389" cy="151.2" r="1.15"/>
<circle cx="1394.4" cy="149.4" r="1.15"/>
<circle cx="1399.7" cy="147.5" r="1.15"/>
<circle cx="1405.1" cy="145.7" r="1.15"/>
<circle cx="1410.5" cy="143.8" r="1.15"/>
<circle cx="1415.9" cy="141.9" r="1.15"/>
<circle cx="1421.3" cy="140.1" r="1.15"/>
<circle cx="1426.6" cy="138.2" r="1.15"/>
<circle cx="1432" cy="136.4" r="1.15"/>
<circle cx="1437.4" cy="134.5" r="1.15"/>
</g>
<g fill="#9c27b0">
<path d="M-1.4 469h3.2M0.2 467.4v3.2" stroke="#9428b0" stroke-width="1.4"/>
<path d="M6.4 468.2h3.2M8 466.6v3.2" stroke="#9428b0" stroke-width="1.4"/>
<path d="M14.2 467.4h3.2M15.8 465.8v3.2" stroke="#9428b0" stroke-width="1.4"/>
<path d="M22 466.7h3.2M23.6 465.1v3.2" stroke="#9428b0" stroke-width="1.4"/>
<path d="M29.9 465.9h3.2M31.5 464.3v3.2" stroke="#9428b0" stroke-width="1.4"/>
<path d="M37.7 465.1h3.2M39.3 463.5v3.2" stroke="#9428b0" stroke-width="1.4"/>
<path d="M45.5 464.3h3.2M47.1 462.7v3.2" stroke="#9428b0" stroke-width="1.4"/>
<path d="M53.3 463.8h3.2M54.9 462.2v3.2" stroke="#9428b0" stroke-width="1.4"/>
<path d="M61.1 463.2h3.2M62.7 461.6v3.2" stroke="#9428b0" stroke-width="1.4"/>
<path d="M69 462.7h3.2M70.6 461.1v3.2" stroke="#9428b0" stroke-width="1.4"/>
<path d="M76.8 462.1h3.2M78.4 460.5v3.2" stroke="#9428b0" stroke-width="1.4"/>
<path d="M84.6 461.6h3.2M86.2 459.9v3.2" stroke="#9428b0" stroke-width="1.4"/>
<path d="M92.4 461h3.2M94 459.4v3.2" stroke="#9428b0" stroke-width="1.4"/>
<path d="M100.2 460.4h3.2M101.8 458.8v3.2" stroke="#9428b0" stroke-width="1.4"/>
<path d="M108.1 459.7h3.2M109.7 458.1v3.2" stroke="#9428b0" stroke-width="1.4"/>
<path d="M115.9 459.1h3.2M117.5 457.5v3.2" stroke="#9428b0" stroke-width="1.4"/>
<path d="M123.7 458.4h3.2M125.3 456.8v3.2" stroke="#9428b0" stroke-width="1.4"/>
<path d="M131.5 457.8h3.2M133.1 456.2v3.2" stroke="#9428b0" stroke-width="1.4"/>
<path d="M139.3 457.2h3.2M140.9 455.6v3.2" stroke="#9428b0" stroke-width="1.4"/>
<path d="M147.2 456.5h3.2M148.8 454.9v3.2" stroke="#9428b0" stroke-width="1.4"/>
<path d="M155 455.9h3.2M156.6 454.3v3.2" stroke="#9428b0" stroke-width="1.4"/>
<path d="M162.8 455.2h3.2M164.4 453.6v3.2" stroke="#9428b0" stroke-width="1.4"/>
<path d="M170.6 454.6h3.2M172.2 453v3.2" stroke="#9428b0" stroke-width="1.4"/>
<path d="M178.4 453.9h3.2M180 452.3v3.2" stroke="#9428b0" stroke-width="1.4"/>
<path d="M186.3 453.2h3.2M187.9 451.6v3.2" stroke="#9428b0" stroke-width="1.4"/>
<path d="M194.1 452.6h3.2M195.7 451v3.2" stroke="#9428b0" stroke-width="1.4"/>
<path d="M201.9 451.9h3.2M203.5 450.3v3.2" stroke="#9428b0" stroke-width="1.4"/>
<path d="M209.7 451.1h3.2M211.3 449.5v3.2" stroke="#9428b0" stroke-width="1.4"/>
<path d="M217.5 450h3.2M219.1 448.4v3.2" stroke="#9428b0" stroke-width="1.4"/>
<path d="M225.4 448.8h3.2M227 447.2v3.2" stroke="#9428b0" stroke-width="1.4"/>
<path d="M233.2 447.6h3.2M234.8 446v3.2" stroke="#9428b0" stroke-width="1.4"/>
<path d="M241 446.4h3.2M242.6 444.8v3.2" stroke="#9428b0" stroke-width="1.4"/>
<path d="M248.8 445.1h3.2M250.4 443.5v3.2" stroke="#9428b0" stroke-width="1.4"/>
<path d="M256.6 443.8h3.2M258.2 442.2v3.2" stroke="#9428b0" stroke-width="1.4"/>
<path d="M264.5 442.5h3.2M266.1 440.9v3.2" stroke="#9428b0" stroke-width="1.4"/>
<path d="M272.3 441.2h3.2M273.9 439.6v3.2" stroke="#9428b0" stroke-width="1.4"/>
<path d="M280.1 439.8h3.2M281.7 438.2v3.2" stroke="#9428b0" stroke-width="1.4"/>
<path d="M287.9 438.4h3.2M289.5 436.8v3.2" stroke="#9428b0" stroke-width="1.4"/>
<path d="M295.7 436.9h3.2M297.3 435.3v3.2" stroke="#9428b0" stroke-width="1.4"/>
<path d="M303.6 435.5h3.2M305.2 433.9v3.2" stroke="#9428b0" stroke-width="1.4"/>
<path d="M311.4 434h3.2M313 432.4v3.2" stroke="#9428b0" stroke-width="1.4"/>
<path d="M319.2 432.5h3.2M320.8 430.9v3.2" stroke="#9428b0" stroke-width="1.4"/>
<path d="M327 431.1h3.2M328.6 429.5v3.2" stroke="#9428b0" stroke-width="1.4"/>
<path d="M334.8 429.6h3.2M336.4 428v3.2" stroke="#9428b0" stroke-width="1.4"/>
<path d="M342.7 428.1h3.2M344.3 426.5v3.2" stroke="#9428b0" stroke-width="1.4"/>
<path d="M350.5 426.7h3.2M352.1 425.1v3.2" stroke="#9428b0" stroke-width="1.4"/>
<path d="M358.3 425.5h3.2M359.9 423.9v3.2" stroke="#9428b0" stroke-width="1.4"/>
<path d="M366.1 424.3h3.2M367.7 422.7v3.2" stroke="#9428b0" stroke-width="1.4"/>
<path d="M373.9 423.1h3.2M375.5 421.5v3.2" stroke="#9428b0" stroke-width="1.4"/>
<path d="M381.8 422h3.2M383.4 420.4v3.2" stroke="#9428b0" stroke-width="1.4"/>
<path d="M389.6 421.4h3.2M391.2 419.8v3.2" stroke="#9428b0" stroke-width="1.4"/>
<path d="M397.4 419.7h3.2M399 418.1v3.2" stroke="#9428b0" stroke-width="1.4"/>
<path d="M405.2 418.1h3.2M406.8 416.5v3.2" stroke="#9428b0" stroke-width="1.4"/>
<path d="M413 416.4h3.2M414.6 414.8v3.2" stroke="#9428b0" stroke-width="1.4"/>
<path d="M420.9 414.8h3.2M422.5 413.2v3.2" stroke="#9428b0" stroke-width="1.4"/>
<path d="M428.7 413.1h3.2M430.3 411.5v3.2" stroke="#9428b0" stroke-width="1.4"/>
<path d="M436.5 411.4h3.2M438.1 409.8v3.2" stroke="#9428b0" stroke-width="1.4"/>
<path d="M444.3 409.8h3.2M445.9 408.2v3.2" stroke="#9428b0" stroke-width="1.4"/>
<path d="M452.1 408.1h3.2M453.7 406.5v3.2" stroke="#9428b0" stroke-width="1.4"/>
<path d="M460 406.5h3.2M461.6 404.9v3.2" stroke="#9428b0" stroke-width="1.4"/>
<path d="M467.8 404.8h3.2M469.4 403.2v3.2" stroke="#9428b0" stroke-width="1.4"/>
<path d="M475.6 403.1h3.2M477.2 401.5v3.2" stroke="#9428b0" stroke-width="1.4"/>
<path d="M483.4 401.3h3.2M485 399.7v3.2" stroke="#9428b0" stroke-width="1.4"/>
<path d="M491.2 399.6h3.2M492.8 398v3.2" stroke="#9428b0" stroke-width="1.4"/>
<path d="M499.1 397.8h3.2M500.7 396.2v3.2" stroke="#9428b0" stroke-width="1.4"/>
<path d="M506.9 396h3.2M508.5 394.4v3.2" stroke="#9428b0" stroke-width="1.4"/>
<path d="M514.7 394.3h3.2M516.3 392.7v3.2" stroke="#9428b0" stroke-width="1.4"/>
<path d="M522.5 392.5h3.2M524.1 390.9v3.2" stroke="#9428b0" stroke-width="1.4"/>
<path d="M530.3 390.8h3.2M531.9 389.2v3.2" stroke="#9428b0" stroke-width="1.4"/>
<path d="M538.2 389h3.2M539.8 387.4v3.2" stroke="#9428b0" stroke-width="1.4"/>
<path d="M546 387.4h3.2M547.6 385.8v3.2" stroke="#9428b0" stroke-width="1.4"/>
<path d="M553.8 386.5h3.2M555.4 384.9v3.2" stroke="#9428b0" stroke-width="1.4"/>
<path d="M561.6 385.5h3.2M563.2 383.9v3.2" stroke="#9428b0" stroke-width="1.4"/>
<path d="M569.4 384.6h3.2M571 383v3.2" stroke="#9428b0" stroke-width="1.4"/>
<path d="M577.3 383.6h3.2M578.9 382v3.2" stroke="#9428b0" stroke-width="1.4"/>
<path d="M585.1 382.7h3.2M586.7 381.1v3.2" stroke="#9428b0" stroke-width="1.4"/>
<path d="M592.9 381.7h3.2M594.5 380.1v3.2" stroke="#9428b0" stroke-width="1.4"/>
<path d="M600.7 380.8h3.2M602.3 379.2v3.2" stroke="#9428b0" stroke-width="1.4"/>
<path d="M608.5 379.8h3.2M610.1 378.2v3.2" stroke="#9428b0" stroke-width="1.4"/>
<path d="M616.4 378.9h3.2M618 377.3v3.2" stroke="#9428b0" stroke-width="1.4"/>
<path d="M624.2 377.6h3.2M625.8 376v3.2" stroke="#9428b0" stroke-width="1.4"/>
<path d="M632 376.3h3.2M633.6 374.7v3.2" stroke="#9428b0" stroke-width="1.4"/>
<path d="M639.8 374.9h3.2M641.4 373.3v3.2" stroke="#9428b0" stroke-width="1.4"/>
<path d="M647.6 373.6h3.2M649.2 372v3.2" stroke="#9428b0" stroke-width="1.4"/>
<path d="M655.5 372.2h3.2M657.1 370.6v3.2" stroke="#9428b0" stroke-width="1.4"/>
<path d="M663.3 370.9h3.2M664.9 369.3v3.2" stroke="#9428b0" stroke-width="1.4"/>
<path d="M671.1 369.6h3.2M672.7 368v3.2" stroke="#9428b0" stroke-width="1.4"/>
<path d="M678.9 368.2h3.2M680.5 366.6v3.2" stroke="#9428b0" stroke-width="1.4"/>
<path d="M686.7 366.9h3.2M688.3 365.3v3.2" stroke="#9428b0" stroke-width="1.4"/>
<path d="M694.6 365.5h3.2M696.2 363.9v3.2" stroke="#9428b0" stroke-width="1.4"/>
<path d="M702.4 364.2h3.2M704 362.6v3.2" stroke="#9428b0" stroke-width="1.4"/>
<path d="M710.2 362.9h3.2M711.8 361.3v3.2" stroke="#9428b0" stroke-width="1.4"/>
<path d="M718 361.5h3.2M719.6 359.9v3.2" stroke="#9428b0" stroke-width="1.4"/>
<path d="M725.8 360.2h3.2M727.4 358.6v3.2" stroke="#9428b0" stroke-width="1.4"/>
<path d="M733.7 358.8h3.2M735.3 357.2v3.2" stroke="#9428b0" stroke-width="1.4"/>
<path d="M741.5 357.4h3.2M743.1 355.8v3.2" stroke="#9428b0" stroke-width="1.4"/>
<path d="M749.3 356h3.2M750.9 354.4v3.2" stroke="#9428b0" stroke-width="1.4"/>
<path d="M757.1 354.5h3.2M758.7 352.9v3.2" stroke="#9428b0" stroke-width="1.4"/>
<path d="M764.9 353.1h3.2M766.5 351.5v3.2" stroke="#9428b0" stroke-width="1.4"/>
<path d="M772.8 351.7h3.2M774.4 350.1v3.2" stroke="#9428b0" stroke-width="1.4"/>
<path d="M780.6 350.3h3.2M782.2 348.7v3.2" stroke="#9428b0" stroke-width="1.4"/>
<path d="M788.4 349.5h3.2M790 347.9v3.2" stroke="#9428b0" stroke-width="1.4"/>
<path d="M796.2 348.8h3.2M797.8 347.2v3.2" stroke="#9428b0" stroke-width="1.4"/>
<path d="M804 348.1h3.2M805.6 346.5v3.2" stroke="#9428b0" stroke-width="1.4"/>
<path d="M811.9 347.3h3.2M813.5 345.7v3.2" stroke="#9428b0" stroke-width="1.4"/>
<path d="M819.7 346.6h3.2M821.3 345v3.2" stroke="#9428b0" stroke-width="1.4"/>
<path d="M827.5 345.9h3.2M829.1 344.3v3.2" stroke="#9428b0" stroke-width="1.4"/>
<path d="M835.3 345.1h3.2M836.9 343.5v3.2" stroke="#9428b0" stroke-width="1.4"/>
<path d="M843.1 344.2h3.2M844.7 342.6v3.2" stroke="#9428b0" stroke-width="1.4"/>
<path d="M851 343.3h3.2M852.6 341.7v3.2" stroke="#9428b0" stroke-width="1.4"/>
<path d="M858.8 342.4h3.2M860.4 340.8v3.2" stroke="#9428b0" stroke-width="1.4"/>
<path d="M866.6 341.5h3.2M868.2 339.9v3.2" stroke="#9428b0" stroke-width="1.4"/>
<path d="M874.4 340.6h3.2M876 339v3.2" stroke="#9428b0" stroke-width="1.4"/>
<path d="M882.2 340.1h3.2M883.8 338.5v3.2" stroke="#9428b0" stroke-width="1.4"/>
<path d="M890.1 339.5h3.2M891.7 337.9v3.2" stroke="#9428b0" stroke-width="1.4"/>
<path d="M897.9 339h3.2M899.5 337.4v3.2" stroke="#9428b0" stroke-width="1.4"/>
<path d="M905.7 338.4h3.2M907.3 336.8v3.2" stroke="#9428b0" stroke-width="1.4"/>
<path d="M913.5 337.5h3.2M915.1 335.9v3.2" stroke="#9428b0" stroke-width="1.4"/>
<path d="M921.3 336.6h3.2M922.9 335v3.2" stroke="#9428b0" stroke-width="1.4"/>
<path d="M929.2 335.7h3.2M930.8 334.1v3.2" stroke="#9428b0" stroke-width="1.4"/>
<path d="M937 334.8h3.2M938.6 333.2v3.2" stroke="#9428b0" stroke-width="1.4"/>
<path d="M944.8 333.9h3.2M946.4 332.3v3.2" stroke="#9428b0" stroke-width="1.4"/>
<path d="M952.6 333h3.2M954.2 331.4v3.2" stroke="#9428b0" stroke-width="1.4"/>
<path d="M960.4 332.1h3.2M962 330.5v3.2" stroke="#9428b0" stroke-width="1.4"/>
<path d="M968.3 331.7h3.2M969.9 330.1v3.2" stroke="#9428b0" stroke-width="1.4"/>
<path d="M976.1 331.4h3.2M977.7 329.8v3.2" stroke="#9428b0" stroke-width="1.4"/>
<path d="M983.9 331h3.2M985.5 329.4v3.2" stroke="#9428b0" stroke-width="1.4"/>
<path d="M991.7 330.7h3.2M993.3 329.1v3.2" stroke="#9428b0" stroke-width="1.4"/>
<path d="M999.5 330.3h3.2M1001.1 328.7v3.2" stroke="#9428b0" stroke-width="1.4"/>
<path d="M1007.4 329.5h3.2M1009 327.9v3.2" stroke="#9428b0" stroke-width="1.4"/>
<path d="M1015.2 328.8h3.2M1016.8 327.2v3.2" stroke="#9428b0" stroke-width="1.4"/>
<path d="M1023 328h3.2M1024.6 326.4v3.2" stroke="#9428b0" stroke-width="1.4"/>
<path d="M1030.8 327.2h3.2M1032.4 325.6v3.2" stroke="#9428b0" stroke-width="1.4"/>
<path d="M1038.6 326.2h3.2M1040.2 324.6v3.2" stroke="#9428b0" stroke-width="1.4"/>
<path d="M1046.5 325.1h3.2M1048.1 323.5v3.2" stroke="#9428b0" stroke-width="1.4"/>
<path d="M1054.3 324.1h3.2M1055.9 322.5v3.2" stroke="#9428b0" stroke-width="1.4"/>
<path d="M1062.1 323.1h3.2M1063.7 321.5v3.2" stroke="#9428b0" stroke-width="1.4"/>
<path d="M1069.9 322.3h3.2M1071.5 320.7v3.2" stroke="#9428b0" stroke-width="1.4"/>
<path d="M1077.7 321.5h3.2M1079.3 319.9v3.2" stroke="#9428b0" stroke-width="1.4"/>
<path d="M1085.6 320.7h3.2M1087.2 319.1v3.2" stroke="#9428b0" stroke-width="1.4"/>
<path d="M1093.4 319.7h3.2M1095 318.1v3.2" stroke="#9428b0" stroke-width="1.4"/>
<path d="M1101.2 318.7h3.2M1102.8 317.1v3.2" stroke="#9428b0" stroke-width="1.4"/>
<path d="M1109 317.6h3.2M1110.6 316v3.2" stroke="#9428b0" stroke-width="1.4"/>
<path d="M1116.8 316.6h3.2M1118.4 315v3.2" stroke="#9428b0" stroke-width="1.4"/>
<path d="M1124.7 315.6h3.2M1126.3 314v3.2" stroke="#9428b0" stroke-width="1.4"/>
<path d="M1132.5 314.9h3.2M1134.1 313.3v3.2" stroke="#9428b0" stroke-width="1.4"/>
<path d="M1140.3 314.1h3.2M1141.9 312.5v3.2" stroke="#9428b0" stroke-width="1.4"/>
<path d="M1148.1 313.4h3.2M1149.7 311.8v3.2" stroke="#9428b0" stroke-width="1.4"/>
<path d="M1155.9 313.4h3.2M1157.5 311.8v3.2" stroke="#9428b0" stroke-width="1.4"/>
<path d="M1163.8 313.4h3.2M1165.4 311.8v3.2" stroke="#9428b0" stroke-width="1.4"/>
<path d="M1171.6 313.4h3.2M1173.2 311.8v3.2" stroke="#9428b0" stroke-width="1.4"/>
<path d="M1179.4 313.4h3.2M1181 311.8v3.2" stroke="#9428b0" stroke-width="1.4"/>
<path d="M1187.2 313.4h3.2M1188.8 311.8v3.2" stroke="#9428b0" stroke-width="1.4"/>
<path d="M1195 313.4h3.2M1196.6 311.8v3.2" stroke="#9428b0" stroke-width="1.4"/>
<path d="M1202.9 313.4h3.2M1204.5 311.8v3.2" stroke="#9428b0" stroke-width="1.4"/>
<path d="M1210.7 313.4h3.2M1212.3 311.8v3.2" stroke="#9428b0" stroke-width="1.4"/>
<path d="M1218.5 313.3h3.2M1220.1 311.7v3.2" stroke="#9428b0" stroke-width="1.4"/>
<path d="M1226.3 313.1h3.2M1227.9 311.5v3.2" stroke="#9428b0" stroke-width="1.4"/>
<path d="M1234.1 313h3.2M1235.7 311.4v3.2" stroke="#9428b0" stroke-width="1.4"/>
<path d="M1242 312.8h3.2M1243.6 311.2v3.2" stroke="#9428b0" stroke-width="1.4"/>
<path d="M1249.8 312.7h3.2M1251.4 311.1v3.2" stroke="#9428b0" stroke-width="1.4"/>
<path d="M1257.6 312.9h3.2M1259.2 311.3v3.2" stroke="#9428b0" stroke-width="1.4"/>
<path d="M1265.4 313h3.2M1267 311.4v3.2" stroke="#9428b0" stroke-width="1.4"/>
<path d="M1273.2 313.2h3.2M1274.8 311.6v3.2" stroke="#9428b0" stroke-width="1.4"/>
<path d="M1281.1 312.9h3.2M1282.7 311.3v3.2" stroke="#9428b0" stroke-width="1.4"/>
<path d="M1288.9 312.7h3.2M1290.5 311.1v3.2" stroke="#9428b0" stroke-width="1.4"/>
<path d="M1296.7 312.7h3.2M1298.3 311.1v3.2" stroke="#9428b0" stroke-width="1.4"/>
<path d="M1304.5 312.7h3.2M1306.1 311.1v3.2" stroke="#9428b0" stroke-width="1.4"/>
<path d="M1312.3 312.7h3.2M1313.9 311.1v3.2" stroke="#9428b0" stroke-width="1.4"/>
<path d="M1320.2 312.7h3.2M1321.8 311.1v3.2" stroke="#9428b0" stroke-width="1.4"/>
</g>
<g>
<line x1="0.5" y1="591.9" x2="0.5" y2="632" stroke="#41913f" stroke-width="1"/>
<rect x="-1.6" y="591.9" width="4.2" height="12.5" fill="#57a955" stroke="#41913f" stroke-width="0.6"/>
<line x1="8" y1="569" x2="8" y2="609" stroke="#41913f" stroke-width="1"/>
<rect x="5.9" y="582.2" width="4.2" height="3.5" fill="#57a955" stroke="#41913f" stroke-width="0.6"/>
<line x1="15.8" y1="532" x2="15.8" y2="575" stroke="#41913f" stroke-width="1"/>
<rect x="13.7" y="534.6" width="4.2" height="33.8" fill="#57a955" stroke="#41913f" stroke-width="0.6"/>
<line x1="23.6" y1="507" x2="23.6" y2="544.6" stroke="#d0283f" stroke-width="1"/>
<rect x="21.5" y="525" width="4.2" height="3" fill="#e53046" stroke="#d0283f" stroke-width="0.6"/>
<line x1="31.5" y1="503.3" x2="31.5" y2="535" stroke="#d0283f" stroke-width="1"/>
<rect x="29.4" y="519" width="4.2" height="3" fill="#e53046" stroke="#d0283f" stroke-width="0.6"/>
<line x1="39.3" y1="507" x2="39.3" y2="556.4" stroke="#d0283f" stroke-width="1"/>
<rect x="37.2" y="517.6" width="4.2" height="37.4" fill="#e53046" stroke="#d0283f" stroke-width="0.6"/>
<line x1="47.1" y1="539.4" x2="47.1" y2="577.7" stroke="#d0283f" stroke-width="1"/>
<rect x="45" y="549.6" width="4.2" height="6.4" fill="#e53046" stroke="#d0283f" stroke-width="0.6"/>
<line x1="54.9" y1="518.3" x2="54.9" y2="554.4" stroke="#41913f" stroke-width="1"/>
<rect x="52.8" y="525" width="4.2" height="29.4" fill="#57a955" stroke="#41913f" stroke-width="0.6"/>
<line x1="62.7" y1="513.8" x2="62.7" y2="537" stroke="#d0283f" stroke-width="1"/>
<rect x="60.6" y="519.6" width="4.2" height="10" fill="#e53046" stroke="#d0283f" stroke-width="0.6"/>
<line x1="70.6" y1="500" x2="70.6" y2="533.4" stroke="#41913f" stroke-width="1"/>
<rect x="68.5" y="505.8" width="4.2" height="22.6" fill="#57a955" stroke="#41913f" stroke-width="0.6"/>
<line x1="78.4" y1="497.6" x2="78.4" y2="505" stroke="#41913f" stroke-width="1"/>
<rect x="76.3" y="500.8" width="4.2" height="1.2" fill="#57a955" stroke="#41913f" stroke-width="0.6"/>
<line x1="86.2" y1="498.8" x2="86.2" y2="542.6" stroke="#d0283f" stroke-width="1"/>
<rect x="84.1" y="501.3" width="4.2" height="40.7" fill="#e53046" stroke="#d0283f" stroke-width="0.6"/>
<line x1="94" y1="537" x2="94" y2="562.6" stroke="#d0283f" stroke-width="1"/>
<rect x="91.9" y="542" width="4.2" height="15" fill="#e53046" stroke="#d0283f" stroke-width="0.6"/>
<line x1="101.8" y1="544" x2="101.8" y2="568.4" stroke="#41913f" stroke-width="1"/>
<rect x="99.7" y="552" width="4.2" height="5" fill="#57a955" stroke="#41913f" stroke-width="0.6"/>
<line x1="109.7" y1="537.6" x2="109.7" y2="567.6" stroke="#d0283f" stroke-width="1"/>
<rect x="107.6" y="552" width="4.2" height="12.6" fill="#e53046" stroke="#d0283f" stroke-width="0.6"/>
<line x1="117.5" y1="560" x2="117.5" y2="573.4" stroke="#d0283f" stroke-width="1"/>
<rect x="115.4" y="568" width="4.2" height="1.2" fill="#e53046" stroke="#d0283f" stroke-width="0.6"/>
<line x1="125.3" y1="550" x2="125.3" y2="575" stroke="#41913f" stroke-width="1"/>
<rect x="123.2" y="554.4" width="4.2" height="11.2" fill="#57a955" stroke="#41913f" stroke-width="0.6"/>
<line x1="133.1" y1="555.6" x2="133.1" y2="571.4" stroke="#d0283f" stroke-width="1"/>
<rect x="131" y="559" width="4.2" height="10.6" fill="#e53046" stroke="#d0283f" stroke-width="0.6"/>
<line x1="140.9" y1="557.6" x2="140.9" y2="569.4" stroke="#41913f" stroke-width="1"/>
<rect x="138.8" y="562" width="4.2" height="2.6" fill="#57a955" stroke="#41913f" stroke-width="0.6"/>
<line x1="148.8" y1="554.6" x2="148.8" y2="564.6" stroke="#41913f" stroke-width="1"/>
<rect x="146.7" y="560" width="4.2" height="3" fill="#57a955" stroke="#41913f" stroke-width="0.6"/>
<line x1="156.6" y1="542" x2="156.6" y2="562.6" stroke="#41913f" stroke-width="1"/>
<rect x="154.5" y="552.6" width="4.2" height="8.4" fill="#57a955" stroke="#41913f" stroke-width="0.6"/>
<line x1="164.4" y1="531" x2="164.4" y2="551.4" stroke="#41913f" stroke-width="1"/>
<rect x="162.3" y="544" width="4.2" height="5" fill="#57a955" stroke="#41913f" stroke-width="0.6"/>
<line x1="172.2" y1="514.6" x2="172.2" y2="543" stroke="#41913f" stroke-width="1"/>
<rect x="170.1" y="526" width="4.2" height="17" fill="#57a955" stroke="#41913f" stroke-width="0.6"/>
<line x1="180" y1="525" x2="180" y2="547.6" stroke="#d0283f" stroke-width="1"/>
<rect x="177.9" y="525" width="4.2" height="20" fill="#e53046" stroke="#d0283f" stroke-width="0.6"/>
<line x1="187.9" y1="535.4" x2="187.9" y2="551.4" stroke="#41913f" stroke-width="1"/>
<rect x="185.8" y="542" width="4.2" height="8.6" fill="#57a955" stroke="#41913f" stroke-width="0.6"/>
<line x1="195.7" y1="519.4" x2="195.7" y2="544.6" stroke="#41913f" stroke-width="1"/>
<rect x="193.6" y="520" width="4.2" height="20" fill="#57a955" stroke="#41913f" stroke-width="0.6"/>
<line x1="203.5" y1="484.3" x2="203.5" y2="527" stroke="#41913f" stroke-width="1"/>
<rect x="201.4" y="484.3" width="4.2" height="30.7" fill="#57a955" stroke="#41913f" stroke-width="0.6"/>
<line x1="211.3" y1="460" x2="211.3" y2="485" stroke="#41913f" stroke-width="1"/>
<rect x="209.2" y="462.3" width="4.2" height="12.5" fill="#57a955" stroke="#41913f" stroke-width="0.6"/>
<line x1="219.1" y1="446.5" x2="219.1" y2="479" stroke="#41913f" stroke-width="1"/>
<rect x="217" y="454" width="4.2" height="5.6" fill="#57a955" stroke="#41913f" stroke-width="0.6"/>
<line x1="227" y1="443.5" x2="227" y2="472" stroke="#d0283f" stroke-width="1"/>
<rect x="224.9" y="450" width="4.2" height="13.2" fill="#e53046" stroke="#d0283f" stroke-width="0.6"/>
<line x1="234.8" y1="434.7" x2="234.8" y2="477.8" stroke="#41913f" stroke-width="1"/>
<rect x="232.7" y="446.5" width="4.2" height="11.1" fill="#57a955" stroke="#41913f" stroke-width="0.6"/>
<line x1="242.6" y1="417.7" x2="242.6" y2="448.4" stroke="#41913f" stroke-width="1"/>
<rect x="240.5" y="432" width="4.2" height="14.4" fill="#57a955" stroke="#41913f" stroke-width="0.6"/>
<line x1="250.4" y1="411.4" x2="250.4" y2="450.2" stroke="#41913f" stroke-width="1"/>
<rect x="248.3" y="427" width="4.2" height="1.2" fill="#57a955" stroke="#41913f" stroke-width="0.6"/>
<line x1="258.2" y1="367.6" x2="258.2" y2="429.4" stroke="#41913f" stroke-width="1"/>
<rect x="256.1" y="371.4" width="4.2" height="53.3" fill="#57a955" stroke="#41913f" stroke-width="0.6"/>
<line x1="266.1" y1="336.3" x2="266.1" y2="378" stroke="#41913f" stroke-width="1"/>
<rect x="264" y="343.8" width="4.2" height="26.2" fill="#57a955" stroke="#41913f" stroke-width="0.6"/>
<line x1="273.9" y1="338.8" x2="273.9" y2="367" stroke="#41913f" stroke-width="1"/>
<rect x="271.8" y="342.6" width="4.2" height="1.2" fill="#57a955" stroke="#41913f" stroke-width="0.6"/>
<line x1="281.7" y1="339.6" x2="281.7" y2="363" stroke="#d0283f" stroke-width="1"/>
<rect x="279.6" y="341.8" width="4.2" height="19.5" fill="#e53046" stroke="#d0283f" stroke-width="0.6"/>
<line x1="289.5" y1="330" x2="289.5" y2="365.8" stroke="#41913f" stroke-width="1"/>
<rect x="287.4" y="343.8" width="4.2" height="14.2" fill="#57a955" stroke="#41913f" stroke-width="0.6"/>
<line x1="297.3" y1="302" x2="297.3" y2="350.8" stroke="#d0283f" stroke-width="1"/>
<rect x="295.2" y="335.6" width="4.2" height="4.4" fill="#e53046" stroke="#d0283f" stroke-width="0.6"/>
<line x1="305.2" y1="331.8" x2="305.2" y2="385" stroke="#d0283f" stroke-width="1"/>
<rect x="303.1" y="337" width="4.2" height="47.6" fill="#e53046" stroke="#d0283f" stroke-width="0.6"/>
<line x1="313" y1="378.9" x2="313" y2="434" stroke="#d0283f" stroke-width="1"/>
<rect x="310.9" y="384" width="4.2" height="8.6" fill="#e53046" stroke="#d0283f" stroke-width="0.6"/>
<line x1="320.8" y1="363.8" x2="320.8" y2="391.4" stroke="#41913f" stroke-width="1"/>
<rect x="318.7" y="365.8" width="4.2" height="21.8" fill="#57a955" stroke="#41913f" stroke-width="0.6"/>
<line x1="328.6" y1="336.3" x2="328.6" y2="363.8" stroke="#41913f" stroke-width="1"/>
<rect x="326.5" y="343.8" width="4.2" height="17.5" fill="#57a955" stroke="#41913f" stroke-width="0.6"/>
<line x1="336.4" y1="338" x2="336.4" y2="375" stroke="#d0283f" stroke-width="1"/>
<rect x="334.3" y="338.6" width="4.2" height="28" fill="#e53046" stroke="#d0283f" stroke-width="0.6"/>
<line x1="344.3" y1="352.6" x2="344.3" y2="390.6" stroke="#d0283f" stroke-width="1"/>
<rect x="342.2" y="365.8" width="4.2" height="18.1" fill="#e53046" stroke="#d0283f" stroke-width="0.6"/>
<line x1="352.1" y1="378" x2="352.1" y2="439" stroke="#d0283f" stroke-width="1"/>
<rect x="350" y="392" width="4.2" height="25.7" fill="#e53046" stroke="#d0283f" stroke-width="0.6"/>
<line x1="359.9" y1="404" x2="359.9" y2="439" stroke="#41913f" stroke-width="1"/>
<rect x="357.8" y="409.6" width="4.2" height="4.4" fill="#57a955" stroke="#41913f" stroke-width="0.6"/>
<line x1="367.7" y1="392.6" x2="367.7" y2="412.6" stroke="#41913f" stroke-width="1"/>
<rect x="365.6" y="395" width="4.2" height="12" fill="#57a955" stroke="#41913f" stroke-width="0.6"/>
<line x1="375.5" y1="391.4" x2="375.5" y2="459" stroke="#d0283f" stroke-width="1"/>
<rect x="373.4" y="392" width="4.2" height="42" fill="#e53046" stroke="#d0283f" stroke-width="0.6"/>
<line x1="383.4" y1="411.4" x2="383.4" y2="462.7" stroke="#d0283f" stroke-width="1"/>
<rect x="381.3" y="431.4" width="4.2" height="9.3" fill="#e53046" stroke="#d0283f" stroke-width="0.6"/>
<line x1="391.2" y1="444.7" x2="391.2" y2="501" stroke="#d0283f" stroke-width="1"/>
<rect x="389.1" y="452.2" width="4.2" height="8.5" fill="#e53046" stroke="#d0283f" stroke-width="0.6"/>
<line x1="399" y1="407.6" x2="399" y2="463.2" stroke="#41913f" stroke-width="1"/>
<rect x="396.9" y="418.2" width="4.2" height="40.8" fill="#57a955" stroke="#41913f" stroke-width="0.6"/>
<line x1="406.8" y1="373.9" x2="406.8" y2="419" stroke="#41913f" stroke-width="1"/>
<rect x="404.7" y="378.9" width="4.2" height="39.3" fill="#57a955" stroke="#41913f" stroke-width="0.6"/>
<line x1="414.6" y1="363" x2="414.6" y2="399.6" stroke="#41913f" stroke-width="1"/>
<rect x="412.5" y="378.9" width="4.2" height="8.7" fill="#57a955" stroke="#41913f" stroke-width="0.6"/>
<line x1="422.5" y1="358.8" x2="422.5" y2="406.4" stroke="#41913f" stroke-width="1"/>
<rect x="420.4" y="360" width="4.2" height="18.9" fill="#57a955" stroke="#41913f" stroke-width="0.6"/>
<line x1="430.3" y1="340" x2="430.3" y2="369.6" stroke="#41913f" stroke-width="1"/>
<rect x="428.2" y="353.3" width="4.2" height="1.3" fill="#57a955" stroke="#41913f" stroke-width="0.6"/>
<line x1="438.1" y1="339.3" x2="438.1" y2="365.8" stroke="#d0283f" stroke-width="1"/>
<rect x="436" y="352.8" width="4.2" height="2.8" fill="#e53046" stroke="#d0283f" stroke-width="0.6"/>
<line x1="445.9" y1="331.3" x2="445.9" y2="367.6" stroke="#41913f" stroke-width="1"/>
<rect x="443.8" y="340" width="4.2" height="17" fill="#57a955" stroke="#41913f" stroke-width="0.6"/>
<line x1="453.7" y1="315.8" x2="453.7" y2="343.8" stroke="#41913f" stroke-width="1"/>
<rect x="451.6" y="319.3" width="4.2" height="22.5" fill="#57a955" stroke="#41913f" stroke-width="0.6"/>
<line x1="461.6" y1="311.3" x2="461.6" y2="331.8" stroke="#d0283f" stroke-width="1"/>
<rect x="459.5" y="317.5" width="4.2" height="8.3" fill="#e53046" stroke="#d0283f" stroke-width="0.6"/>
<line x1="469.4" y1="322" x2="469.4" y2="358" stroke="#d0283f" stroke-width="1"/>
<rect x="467.3" y="328" width="4.2" height="25.3" fill="#e53046" stroke="#d0283f" stroke-width="0.6"/>
<line x1="477.2" y1="336.3" x2="477.2" y2="364.6" stroke="#41913f" stroke-width="1"/>
<rect x="475.1" y="350.6" width="4.2" height="1.2" fill="#57a955" stroke="#41913f" stroke-width="0.6"/>
<line x1="485" y1="338" x2="485" y2="356.3" stroke="#d0283f" stroke-width="1"/>
<rect x="482.9" y="350" width="4.2" height="2.6" fill="#e53046" stroke="#d0283f" stroke-width="0.6"/>
<line x1="492.8" y1="323" x2="492.8" y2="350.6" stroke="#41913f" stroke-width="1"/>
<rect x="490.7" y="332" width="4.2" height="16.8" fill="#57a955" stroke="#41913f" stroke-width="0.6"/>
<line x1="500.7" y1="298.3" x2="500.7" y2="337" stroke="#41913f" stroke-width="1"/>
<rect x="498.6" y="298.8" width="4.2" height="31.8" fill="#57a955" stroke="#41913f" stroke-width="0.6"/>
<line x1="508.5" y1="292.2" x2="508.5" y2="307" stroke="#41913f" stroke-width="1"/>
<rect x="506.4" y="294" width="4.2" height="3.7" fill="#57a955" stroke="#41913f" stroke-width="0.6"/>
<line x1="516.3" y1="266.4" x2="516.3" y2="307" stroke="#d0283f" stroke-width="1"/>
<rect x="514.2" y="291" width="4.2" height="9.2" fill="#e53046" stroke="#d0283f" stroke-width="0.6"/>
<line x1="524.1" y1="268.2" x2="524.1" y2="302.2" stroke="#41913f" stroke-width="1"/>
<rect x="522" y="279" width="4.2" height="17.5" fill="#57a955" stroke="#41913f" stroke-width="0.6"/>
<line x1="531.9" y1="276" x2="531.9" y2="294.7" stroke="#d0283f" stroke-width="1"/>
<rect x="529.8" y="280.7" width="4.2" height="4.5" fill="#e53046" stroke="#d0283f" stroke-width="0.6"/>
<line x1="539.8" y1="238.1" x2="539.8" y2="281.4" stroke="#41913f" stroke-width="1"/>
<rect x="537.7" y="246.4" width="4.2" height="35" fill="#57a955" stroke="#41913f" stroke-width="0.6"/>
<line x1="547.6" y1="238.1" x2="547.6" y2="285.2" stroke="#41913f" stroke-width="1"/>
<rect x="545.5" y="245.6" width="4.2" height="3.4" fill="#57a955" stroke="#41913f" stroke-width="0.6"/>
<line x1="555.4" y1="226.4" x2="555.4" y2="271" stroke="#41913f" stroke-width="1"/>
<rect x="553.3" y="230" width="4.2" height="15" fill="#57a955" stroke="#41913f" stroke-width="0.6"/>
<line x1="563.2" y1="210" x2="563.2" y2="264.4" stroke="#d0283f" stroke-width="1"/>
<rect x="561.1" y="230" width="4.2" height="34.4" fill="#e53046" stroke="#d0283f" stroke-width="0.6"/>
<line x1="571" y1="250" x2="571" y2="279.7" stroke="#41913f" stroke-width="1"/>
<rect x="568.9" y="257" width="4.2" height="3.7" fill="#57a955" stroke="#41913f" stroke-width="0.6"/>
<line x1="578.9" y1="257" x2="578.9" y2="344.7" stroke="#d0283f" stroke-width="1"/>
<rect x="576.8" y="257" width="4.2" height="87.7" fill="#e53046" stroke="#d0283f" stroke-width="0.6"/>
<line x1="586.7" y1="305.3" x2="586.7" y2="342" stroke="#41913f" stroke-width="1"/>
<rect x="584.6" y="309" width="4.2" height="30" fill="#57a955" stroke="#41913f" stroke-width="0.6"/>
<line x1="594.5" y1="295.6" x2="594.5" y2="311.6" stroke="#d0283f" stroke-width="1"/>
<rect x="592.4" y="303" width="4.2" height="8.6" fill="#e53046" stroke="#d0283f" stroke-width="0.6"/>
<line x1="602.3" y1="260.6" x2="602.3" y2="307.9" stroke="#41913f" stroke-width="1"/>
<rect x="600.2" y="260.6" width="4.2" height="47.3" fill="#57a955" stroke="#41913f" stroke-width="0.6"/>
<line x1="610.1" y1="210.6" x2="610.1" y2="266.4" stroke="#41913f" stroke-width="1"/>
<rect x="608" y="213.4" width="4.2" height="48" fill="#57a955" stroke="#41913f" stroke-width="0.6"/>
<line x1="618" y1="163" x2="618" y2="208.3" stroke="#41913f" stroke-width="1"/>
<rect x="615.9" y="188.8" width="4.2" height="10.8" fill="#57a955" stroke="#41913f" stroke-width="0.6"/>
<line x1="625.8" y1="160" x2="625.8" y2="203.8" stroke="#41913f" stroke-width="1"/>
<rect x="623.7" y="175" width="4.2" height="14.3" fill="#57a955" stroke="#41913f" stroke-width="0.6"/>
<line x1="633.6" y1="154.3" x2="633.6" y2="197" stroke="#d0283f" stroke-width="1"/>
<rect x="631.5" y="172.5" width="4.2" height="6.3" fill="#e53046" stroke="#d0283f" stroke-width="0.6"/>
<line x1="641.4" y1="151.8" x2="641.4" y2="181.8" stroke="#d0283f" stroke-width="1"/>
<rect x="639.3" y="176.8" width="4.2" height="5" fill="#e53046" stroke="#d0283f" stroke-width="0.6"/>
<line x1="649.2" y1="139.3" x2="649.2" y2="192" stroke="#41913f" stroke-width="1"/>
<rect x="647.1" y="152.5" width="4.2" height="31.3" fill="#57a955" stroke="#41913f" stroke-width="0.6"/>
<line x1="657.1" y1="154.3" x2="657.1" y2="210" stroke="#d0283f" stroke-width="1"/>
<rect x="655" y="158" width="4.2" height="45.8" fill="#e53046" stroke="#d0283f" stroke-width="0.6"/>
<line x1="664.9" y1="180" x2="664.9" y2="208.8" stroke="#41913f" stroke-width="1"/>
<rect x="662.8" y="180" width="4.2" height="23.8" fill="#57a955" stroke="#41913f" stroke-width="0.6"/>
<line x1="672.7" y1="145" x2="672.7" y2="205.6" stroke="#d0283f" stroke-width="1"/>
<rect x="670.6" y="185" width="4.2" height="18.8" fill="#e53046" stroke="#d0283f" stroke-width="0.6"/>
<line x1="680.5" y1="169.5" x2="680.5" y2="231.9" stroke="#d0283f" stroke-width="1"/>
<rect x="678.4" y="180" width="4.2" height="45.6" fill="#e53046" stroke="#d0283f" stroke-width="0.6"/>
<line x1="688.3" y1="221.9" x2="688.3" y2="297.2" stroke="#d0283f" stroke-width="1"/>
<rect x="686.2" y="223.9" width="4.2" height="3.1" fill="#e53046" stroke="#d0283f" stroke-width="0.6"/>
<line x1="696.2" y1="220" x2="696.2" y2="279.4" stroke="#d0283f" stroke-width="1"/>
<rect x="694.1" y="220" width="4.2" height="8.4" fill="#e53046" stroke="#d0283f" stroke-width="0.6"/>
<line x1="704" y1="220" x2="704" y2="263.4" stroke="#d0283f" stroke-width="1"/>
<rect x="701.9" y="233.9" width="4.2" height="9.5" fill="#e53046" stroke="#d0283f" stroke-width="0.6"/>
<line x1="711.8" y1="211.4" x2="711.8" y2="265.2" stroke="#41913f" stroke-width="1"/>
<rect x="709.7" y="240.4" width="4.2" height="1.2" fill="#57a955" stroke="#41913f" stroke-width="0.6"/>
<line x1="719.6" y1="211.4" x2="719.6" y2="240.4" stroke="#41913f" stroke-width="1"/>
<rect x="717.5" y="227" width="4.2" height="9.9" fill="#57a955" stroke="#41913f" stroke-width="0.6"/>
<line x1="727.4" y1="205.6" x2="727.4" y2="238.9" stroke="#41913f" stroke-width="1"/>
<rect x="725.3" y="218.9" width="4.2" height="3.7" fill="#57a955" stroke="#41913f" stroke-width="0.6"/>
<line x1="735.3" y1="220" x2="735.3" y2="238.9" stroke="#d0283f" stroke-width="1"/>
<rect x="733.2" y="228.4" width="4.2" height="2.5" fill="#e53046" stroke="#d0283f" stroke-width="0.6"/>
<line x1="743.1" y1="174.3" x2="743.1" y2="231.9" stroke="#41913f" stroke-width="1"/>
<rect x="741" y="198" width="4.2" height="33.9" fill="#57a955" stroke="#41913f" stroke-width="0.6"/>
<line x1="750.9" y1="180" x2="750.9" y2="206.3" stroke="#41913f" stroke-width="1"/>
<rect x="748.8" y="183" width="4.2" height="12" fill="#57a955" stroke="#41913f" stroke-width="0.6"/>
<line x1="758.7" y1="181.3" x2="758.7" y2="208.3" stroke="#d0283f" stroke-width="1"/>
<rect x="756.6" y="185" width="4.2" height="23.3" fill="#e53046" stroke="#d0283f" stroke-width="0.6"/>
<line x1="766.5" y1="190.6" x2="766.5" y2="214.4" stroke="#d0283f" stroke-width="1"/>
<rect x="764.4" y="207.6" width="4.2" height="3.8" fill="#e53046" stroke="#d0283f" stroke-width="0.6"/>
<line x1="774.4" y1="177" x2="774.4" y2="211.9" stroke="#41913f" stroke-width="1"/>
<rect x="772.3" y="181.3" width="4.2" height="24.3" fill="#57a955" stroke="#41913f" stroke-width="0.6"/>
<line x1="782.2" y1="156.3" x2="782.2" y2="207.6" stroke="#d0283f" stroke-width="1"/>
<rect x="780.1" y="175.6" width="4.2" height="22" fill="#e53046" stroke="#d0283f" stroke-width="0.6"/>
<line x1="790" y1="198" x2="790" y2="234.6" stroke="#d0283f" stroke-width="1"/>
<rect x="787.9" y="198" width="4.2" height="36.6" fill="#e53046" stroke="#d0283f" stroke-width="0.6"/>
<line x1="797.8" y1="220.9" x2="797.8" y2="239.6" stroke="#d0283f" stroke-width="1"/>
<rect x="795.7" y="230" width="4.2" height="2.6" fill="#e53046" stroke="#d0283f" stroke-width="0.6"/>
<line x1="805.6" y1="217" x2="805.6" y2="243.4" stroke="#d0283f" stroke-width="1"/>
<rect x="803.5" y="230.6" width="4.2" height="7" fill="#e53046" stroke="#d0283f" stroke-width="0.6"/>
<line x1="813.5" y1="218" x2="813.5" y2="273.4" stroke="#d0283f" stroke-width="1"/>
<rect x="811.4" y="237" width="4.2" height="30.7" fill="#e53046" stroke="#d0283f" stroke-width="0.6"/>
<line x1="821.3" y1="255" x2="821.3" y2="274.7" stroke="#41913f" stroke-width="1"/>
<rect x="819.2" y="264.4" width="4.2" height="2.6" fill="#57a955" stroke="#41913f" stroke-width="0.6"/>
<line x1="829.1" y1="249" x2="829.1" y2="265.2" stroke="#41913f" stroke-width="1"/>
<rect x="827" y="251.4" width="4.2" height="13.3" fill="#57a955" stroke="#41913f" stroke-width="0.6"/>
<line x1="836.9" y1="233.9" x2="836.9" y2="269" stroke="#41913f" stroke-width="1"/>
<rect x="834.8" y="244.6" width="4.2" height="4.4" fill="#57a955" stroke="#41913f" stroke-width="0.6"/>
<line x1="844.7" y1="235" x2="844.7" y2="255.2" stroke="#d0283f" stroke-width="1"/>
<rect x="842.6" y="244" width="4.2" height="10.7" fill="#e53046" stroke="#d0283f" stroke-width="0.6"/>
<line x1="852.6" y1="213.9" x2="852.6" y2="254.4" stroke="#41913f" stroke-width="1"/>
<rect x="850.5" y="220" width="4.2" height="29" fill="#57a955" stroke="#41913f" stroke-width="0.6"/>
<line x1="860.4" y1="205.6" x2="860.4" y2="223.9" stroke="#d0283f" stroke-width="1"/>
<rect x="858.3" y="209.6" width="4.2" height="8" fill="#e53046" stroke="#d0283f" stroke-width="0.6"/>
<line x1="868.2" y1="212" x2="868.2" y2="233.4" stroke="#d0283f" stroke-width="1"/>
<rect x="866.1" y="216.4" width="4.2" height="17" fill="#e53046" stroke="#d0283f" stroke-width="0.6"/>
<line x1="876" y1="228.9" x2="876" y2="272" stroke="#d0283f" stroke-width="1"/>
<rect x="873.9" y="231.4" width="4.2" height="27" fill="#e53046" stroke="#d0283f" stroke-width="0.6"/>
<line x1="883.8" y1="243.9" x2="883.8" y2="262" stroke="#41913f" stroke-width="1"/>
<rect x="881.7" y="256" width="4.2" height="3" fill="#57a955" stroke="#41913f" stroke-width="0.6"/>
<line x1="891.7" y1="246.4" x2="891.7" y2="283.2" stroke="#d0283f" stroke-width="1"/>
<rect x="889.6" y="252.7" width="4.2" height="29.5" fill="#e53046" stroke="#d0283f" stroke-width="0.6"/>
<line x1="899.5" y1="255.2" x2="899.5" y2="278.4" stroke="#41913f" stroke-width="1"/>
<rect x="897.4" y="264.7" width="4.2" height="13.7" fill="#57a955" stroke="#41913f" stroke-width="0.6"/>
<line x1="907.3" y1="235" x2="907.3" y2="266.4" stroke="#41913f" stroke-width="1"/>
<rect x="905.2" y="240" width="4.2" height="20" fill="#57a955" stroke="#41913f" stroke-width="0.6"/>
<line x1="915.1" y1="222" x2="915.1" y2="245" stroke="#41913f" stroke-width="1"/>
<rect x="913" y="229.6" width="4.2" height="3.4" fill="#57a955" stroke="#41913f" stroke-width="0.6"/>
<line x1="922.9" y1="191.3" x2="922.9" y2="227.6" stroke="#41913f" stroke-width="1"/>
<rect x="920.8" y="195" width="4.2" height="32" fill="#57a955" stroke="#41913f" stroke-width="0.6"/>
<line x1="930.8" y1="162" x2="930.8" y2="192.6" stroke="#41913f" stroke-width="1"/>
<rect x="928.7" y="173.8" width="4.2" height="6.8" fill="#57a955" stroke="#41913f" stroke-width="0.6"/>
<line x1="938.6" y1="157" x2="938.6" y2="202.6" stroke="#d0283f" stroke-width="1"/>
<rect x="936.5" y="173" width="4.2" height="27.8" fill="#e53046" stroke="#d0283f" stroke-width="0.6"/>
<line x1="946.4" y1="191.3" x2="946.4" y2="212.6" stroke="#d0283f" stroke-width="1"/>
<rect x="944.3" y="198" width="4.2" height="14.6" fill="#e53046" stroke="#d0283f" stroke-width="0.6"/>
<line x1="954.2" y1="181.3" x2="954.2" y2="204.3" stroke="#41913f" stroke-width="1"/>
<rect x="952.1" y="191.8" width="4.2" height="8.8" fill="#57a955" stroke="#41913f" stroke-width="0.6"/>
<line x1="962" y1="176.3" x2="962" y2="283.2" stroke="#d0283f" stroke-width="1"/>
<rect x="959.9" y="188.8" width="4.2" height="93.9" fill="#e53046" stroke="#d0283f" stroke-width="0.6"/>
<line x1="969.9" y1="279.7" x2="969.9" y2="352.2" stroke="#d0283f" stroke-width="1"/>
<rect x="967.8" y="284" width="4.2" height="5.4" fill="#e53046" stroke="#d0283f" stroke-width="0.6"/>
<line x1="977.7" y1="243" x2="977.7" y2="289.4" stroke="#41913f" stroke-width="1"/>
<rect x="975.6" y="253" width="4.2" height="30.4" fill="#57a955" stroke="#41913f" stroke-width="0.6"/>
<line x1="985.5" y1="216.4" x2="985.5" y2="279.4" stroke="#d0283f" stroke-width="1"/>
<rect x="983.4" y="240" width="4.2" height="5" fill="#e53046" stroke="#d0283f" stroke-width="0.6"/>
<line x1="993.3" y1="231.4" x2="993.3" y2="249" stroke="#41913f" stroke-width="1"/>
<rect x="991.2" y="240" width="4.2" height="9" fill="#57a955" stroke="#41913f" stroke-width="0.6"/>
<line x1="1001.1" y1="223.4" x2="1001.1" y2="242.6" stroke="#41913f" stroke-width="1"/>
<rect x="999" y="228.9" width="4.2" height="5" fill="#57a955" stroke="#41913f" stroke-width="0.6"/>
<line x1="1009" y1="203.8" x2="1009" y2="230.9" stroke="#41913f" stroke-width="1"/>
<rect x="1006.9" y="218" width="4.2" height="9" fill="#57a955" stroke="#41913f" stroke-width="0.6"/>
<line x1="1016.8" y1="219.4" x2="1016.8" y2="244.4" stroke="#d0283f" stroke-width="1"/>
<rect x="1014.7" y="223.4" width="4.2" height="6.6" fill="#e53046" stroke="#d0283f" stroke-width="0.6"/>
<line x1="1024.6" y1="208.8" x2="1024.6" y2="241.4" stroke="#d0283f" stroke-width="1"/>
<rect x="1022.5" y="226.4" width="4.2" height="15" fill="#e53046" stroke="#d0283f" stroke-width="0.6"/>
<line x1="1032.4" y1="183.3" x2="1032.4" y2="244.4" stroke="#41913f" stroke-width="1"/>
<rect x="1030.3" y="191.4" width="4.2" height="52.5" fill="#57a955" stroke="#41913f" stroke-width="0.6"/>
<line x1="1040.2" y1="150.2" x2="1040.2" y2="196.5" stroke="#41913f" stroke-width="1"/>
<rect x="1038.1" y="180.2" width="4.2" height="3.3" fill="#57a955" stroke="#41913f" stroke-width="0.6"/>
<line x1="1048.1" y1="159.4" x2="1048.1" y2="198.5" stroke="#41913f" stroke-width="1"/>
<rect x="1046" y="174.4" width="4.2" height="7.1" fill="#57a955" stroke="#41913f" stroke-width="0.6"/>
<line x1="1055.9" y1="133.9" x2="1055.9" y2="179" stroke="#41913f" stroke-width="1"/>
<rect x="1053.8" y="146" width="4.2" height="31" fill="#57a955" stroke="#41913f" stroke-width="0.6"/>
<line x1="1063.7" y1="76.3" x2="1063.7" y2="142.7" stroke="#41913f" stroke-width="1"/>
<rect x="1061.6" y="92.1" width="4.2" height="45.5" fill="#57a955" stroke="#41913f" stroke-width="0.6"/>
<line x1="1071.5" y1="75" x2="1071.5" y2="120.9" stroke="#d0283f" stroke-width="1"/>
<rect x="1069.4" y="88" width="4.2" height="23.4" fill="#e53046" stroke="#d0283f" stroke-width="0.6"/>
<line x1="1079.3" y1="87.6" x2="1079.3" y2="118.9" stroke="#41913f" stroke-width="1"/>
<rect x="1077.2" y="110.9" width="4.2" height="2.5" fill="#57a955" stroke="#41913f" stroke-width="0.6"/>
<line x1="1087.2" y1="54.3" x2="1087.2" y2="139.6" stroke="#41913f" stroke-width="1"/>
<rect x="1085.1" y="66.3" width="4.2" height="41.3" fill="#57a955" stroke="#41913f" stroke-width="0.6"/>
<line x1="1095" y1="45.5" x2="1095" y2="124.6" stroke="#d0283f" stroke-width="1"/>
<rect x="1092.9" y="61.8" width="4.2" height="39.1" fill="#e53046" stroke="#d0283f" stroke-width="0.6"/>
<line x1="1102.8" y1="60" x2="1102.8" y2="132.6" stroke="#41913f" stroke-width="1"/>
<rect x="1100.7" y="71.3" width="4.2" height="29.6" fill="#57a955" stroke="#41913f" stroke-width="0.6"/>
<line x1="1110.6" y1="38" x2="1110.6" y2="87" stroke="#d0283f" stroke-width="1"/>
<rect x="1108.5" y="58" width="4.2" height="27.8" fill="#e53046" stroke="#d0283f" stroke-width="0.6"/>
<line x1="1118.4" y1="85" x2="1118.4" y2="167.7" stroke="#d0283f" stroke-width="1"/>
<rect x="1116.3" y="85" width="4.2" height="67.7" fill="#e53046" stroke="#d0283f" stroke-width="0.6"/>
<line x1="1126.3" y1="127" x2="1126.3" y2="182.7" stroke="#d0283f" stroke-width="1"/>
<rect x="1124.2" y="145" width="4.2" height="2.7" fill="#e53046" stroke="#d0283f" stroke-width="0.6"/>
<line x1="1134.1" y1="128" x2="1134.1" y2="147.7" stroke="#d0283f" stroke-width="1"/>
<rect x="1132" y="138.4" width="4.2" height="9.3" fill="#e53046" stroke="#d0283f" stroke-width="0.6"/>
<line x1="1141.9" y1="104.6" x2="1141.9" y2="167.7" stroke="#41913f" stroke-width="1"/>
<rect x="1139.8" y="113.9" width="4.2" height="37.5" fill="#57a955" stroke="#41913f" stroke-width="0.6"/>
<line x1="1149.7" y1="99.6" x2="1149.7" y2="145.7" stroke="#d0283f" stroke-width="1"/>
<rect x="1147.6" y="111.9" width="4.2" height="33.8" fill="#e53046" stroke="#d0283f" stroke-width="0.6"/>
<line x1="1157.5" y1="142" x2="1157.5" y2="169.7" stroke="#d0283f" stroke-width="1"/>
<rect x="1155.4" y="142.7" width="4.2" height="18" fill="#e53046" stroke="#d0283f" stroke-width="0.6"/>
<line x1="1165.4" y1="138.4" x2="1165.4" y2="173.2" stroke="#d0283f" stroke-width="1"/>
<rect x="1163.3" y="152.7" width="4.2" height="15" fill="#e53046" stroke="#d0283f" stroke-width="0.6"/>
<line x1="1173.2" y1="137.6" x2="1173.2" y2="163.4" stroke="#41913f" stroke-width="1"/>
<rect x="1171.1" y="149.7" width="4.2" height="13" fill="#57a955" stroke="#41913f" stroke-width="0.6"/>
<line x1="1181" y1="147" x2="1181" y2="169" stroke="#d0283f" stroke-width="1"/>
<rect x="1178.9" y="161" width="4.2" height="6.7" fill="#e53046" stroke="#d0283f" stroke-width="0.6"/>
<line x1="1188.8" y1="165" x2="1188.8" y2="214.4" stroke="#d0283f" stroke-width="1"/>
<rect x="1186.7" y="167.7" width="4.2" height="32" fill="#e53046" stroke="#d0283f" stroke-width="0.6"/>
<line x1="1196.6" y1="166.4" x2="1196.6" y2="204" stroke="#41913f" stroke-width="1"/>
<rect x="1194.5" y="175" width="4.2" height="19.5" fill="#57a955" stroke="#41913f" stroke-width="0.6"/>
<line x1="1204.5" y1="171.4" x2="1204.5" y2="212" stroke="#d0283f" stroke-width="1"/>
<rect x="1202.4" y="174" width="4.2" height="36" fill="#e53046" stroke="#d0283f" stroke-width="0.6"/>
<line x1="1212.3" y1="181.5" x2="1212.3" y2="212.6" stroke="#41913f" stroke-width="1"/>
<rect x="1210.2" y="184.7" width="4.2" height="26.3" fill="#57a955" stroke="#41913f" stroke-width="0.6"/>
<line x1="1220.1" y1="148" x2="1220.1" y2="184.7" stroke="#41913f" stroke-width="1"/>
<rect x="1218" y="164.7" width="4.2" height="20" fill="#57a955" stroke="#41913f" stroke-width="0.6"/>
<line x1="1227.9" y1="150" x2="1227.9" y2="177" stroke="#d0283f" stroke-width="1"/>
<rect x="1225.8" y="157" width="4.2" height="17" fill="#e53046" stroke="#d0283f" stroke-width="0.6"/>
<line x1="1235.7" y1="133" x2="1235.7" y2="174" stroke="#41913f" stroke-width="1"/>
<rect x="1233.6" y="142" width="4.2" height="32" fill="#57a955" stroke="#41913f" stroke-width="0.6"/>
<line x1="1243.6" y1="137" x2="1243.6" y2="175" stroke="#d0283f" stroke-width="1"/>
<rect x="1241.5" y="140" width="4.2" height="35" fill="#e53046" stroke="#d0283f" stroke-width="0.6"/>
<line x1="1251.4" y1="124.4" x2="1251.4" y2="170" stroke="#41913f" stroke-width="1"/>
<rect x="1249.3" y="142.7" width="4.2" height="27.3" fill="#57a955" stroke="#41913f" stroke-width="0.6"/>
<line x1="1259.2" y1="126.4" x2="1259.2" y2="162.7" stroke="#d0283f" stroke-width="1"/>
<rect x="1257.1" y="137" width="4.2" height="15" fill="#e53046" stroke="#d0283f" stroke-width="0.6"/>
<line x1="1267" y1="146" x2="1267" y2="164.7" stroke="#d0283f" stroke-width="1"/>
<rect x="1264.9" y="152.7" width="4.2" height="12" fill="#e53046" stroke="#d0283f" stroke-width="0.6"/>
<line x1="1274.8" y1="157" x2="1274.8" y2="194" stroke="#d0283f" stroke-width="1"/>
<rect x="1272.7" y="161" width="4.2" height="28.5" fill="#e53046" stroke="#d0283f" stroke-width="0.6"/>
<line x1="1282.7" y1="112" x2="1282.7" y2="181.5" stroke="#41913f" stroke-width="1"/>
<rect x="1280.6" y="141" width="4.2" height="39.7" fill="#57a955" stroke="#41913f" stroke-width="0.6"/>
<line x1="1290.5" y1="103.4" x2="1290.5" y2="151.4" stroke="#41913f" stroke-width="1"/>
<rect x="1288.4" y="137" width="4.2" height="1.2" fill="#57a955" stroke="#41913f" stroke-width="0.6"/>
<line x1="1298.3" y1="105" x2="1298.3" y2="159" stroke="#d0283f" stroke-width="1"/>
<rect x="1296.2" y="132.6" width="4.2" height="5.4" fill="#e53046" stroke="#d0283f" stroke-width="0.6"/>
<line x1="1306.1" y1="102" x2="1306.1" y2="162" stroke="#d0283f" stroke-width="1"/>
<rect x="1304" y="132.6" width="4.2" height="29.4" fill="#e53046" stroke="#d0283f" stroke-width="0.6"/>
<line x1="1313.9" y1="152.7" x2="1313.9" y2="184.7" stroke="#d0283f" stroke-width="1"/>
<rect x="1311.8" y="154.4" width="4.2" height="17.6" fill="#e53046" stroke="#d0283f" stroke-width="0.6"/>
<line x1="1321.8" y1="152" x2="1321.8" y2="177.2" stroke="#d0283f" stroke-width="1"/>
<rect x="1319.7" y="166" width="4.2" height="10.4" fill="#e53046" stroke="#d0283f" stroke-width="0.6"/>
</g>
</g>
<line x1="0" y1="705.5" x2="1544" y2="705.5" stroke="#e0e3eb" stroke-width="1"/>
<line x1="1504.5" y1="0" x2="1504.5" y2="726.5" stroke="#e0e3eb" stroke-width="1"/>
<text class="pr" x="1512" y="668.2" textLength="27.5" lengthAdjust="spacingAndGlyphs">6.00</text>
<text class="pr" x="1512" y="620.8" textLength="27.5" lengthAdjust="spacingAndGlyphs">8.00</text>
<text class="pr" x="1512" y="573.3" textLength="27.5" lengthAdjust="spacingAndGlyphs">10.00</text>
<text class="pr" x="1512" y="525.9" textLength="27.5" lengthAdjust="spacingAndGlyphs">12.00</text>
<text class="pr" x="1512" y="478.4" textLength="27.5" lengthAdjust="spacingAndGlyphs">14.00</text>
<text class="pr" x="1512" y="431" textLength="27.5" lengthAdjust="spacingAndGlyphs">16.00</text>
<text class="pr" x="1512" y="383.6" textLength="27.5" lengthAdjust="spacingAndGlyphs">18.00</text>
<text class="pr" x="1512" y="336.1" textLength="27.5" lengthAdjust="spacingAndGlyphs">20.00</text>
<text class="pr" x="1512" y="288.7" textLength="27.5" lengthAdjust="spacingAndGlyphs">22.00</text>
<text class="pr" x="1512" y="241.2" textLength="27.5" lengthAdjust="spacingAndGlyphs">24.00</text>
<text class="pr" x="1512" y="193.8" textLength="27.5" lengthAdjust="spacingAndGlyphs">26.00</text>
<text class="pr" x="1512" y="146.4" textLength="27.5" lengthAdjust="spacingAndGlyphs">28.00</text>
<text class="pr" x="1512" y="98.9" textLength="27.5" lengthAdjust="spacingAndGlyphs">30.00</text>
<text class="pr" x="1512" y="51.5" textLength="27.5" lengthAdjust="spacingAndGlyphs">32.00</text>
<text class="pr" x="1512" y="4" textLength="27.5" lengthAdjust="spacingAndGlyphs">34.00</text>
<rect x="1505" y="168" width="40" height="16" fill="#e62e46"/>
<text x="1512" y="180.3" font-size="11.5" font-weight="bold" fill="#fff" textLength="28" lengthAdjust="spacingAndGlyphs">26.55</text>
<text class="ax" x="9.5" y="722.3" text-anchor="middle">11</text>
<text class="axb" x="54.4" y="722.3" text-anchor="middle">2023</text>
<text class="ax" x="125" y="722.3" text-anchor="middle">Tháng 3</text>
<text class="ax" x="187.6" y="722.3" text-anchor="middle">Tháng Năm</text>
<text class="ax" x="258.3" y="722.3" text-anchor="middle">Tháng 7</text>
<text class="ax" x="328.7" y="722.3" text-anchor="middle">Tháng 9</text>
<text class="ax" x="398.6" y="722.3" text-anchor="middle">Tháng 11</text>
<text class="axb" x="461" y="722.3" text-anchor="middle">2024</text>
<text class="ax" x="531.4" y="722.3" text-anchor="middle">Tháng 3</text>
<text class="ax" x="601.8" y="722.3" text-anchor="middle">Tháng Năm</text>
<text class="ax" x="664.2" y="722.3" text-anchor="middle">Tháng 7</text>
<text class="ax" x="735.4" y="722.3" text-anchor="middle">Tháng 9</text>
<text class="ax" x="805.2" y="722.3" text-anchor="middle">Tháng 11</text>
<text class="axb" x="875.5" y="722.3" text-anchor="middle">2025</text>
<text class="ax" x="930.5" y="722.3" text-anchor="middle">Tháng 3</text>
<text class="ax" x="1000.9" y="722.3" text-anchor="middle">Tháng Năm</text>
<text class="ax" x="1071.2" y="722.3" text-anchor="middle">Tháng 7</text>
<text class="ax" x="1133.8" y="722.3" text-anchor="middle">Tháng 9</text>
<text class="ax" x="1203.9" y="722.3" text-anchor="middle">Tháng 11</text>
<text class="axb" x="1274.4" y="722.3" text-anchor="middle">2026</text>
<text class="ax" x="1329.3" y="722.3" text-anchor="middle">Tháng 3</text>
<text class="ax" x="1399.5" y="722.3" text-anchor="middle">Tháng Năm</text>
<text class="ax" x="1470" y="722.3" text-anchor="middle">Tháng 7</text>
<g transform="translate(1529.4,718.8)" fill="none" stroke="#2a2e39" stroke-width="1.25"><path d="M-3.6 -5.3h7.2l3.1 5.3l-3.1 5.3h-7.2l-3.1 -5.3z" stroke-linejoin="round"/><circle r="2"/></g>
<text x="-2.2" y="14" font-size="12.5" fill="#2962ff">7</text>
<rect x="788.8" y="12" width="60.2" height="37" fill="#fff" stroke="#43903f" stroke-width="2"/>
<text x="794.8" y="39.8" font-size="27.8" font-weight="bold" fill="#43903f" textLength="49" lengthAdjust="spacingAndGlyphs">DBC</text>
</svg>
<div id="cap">Nhiều khả năng giá sẽ phá vỡ đường hỗ trợ xu hướng</div>
</body></html>
